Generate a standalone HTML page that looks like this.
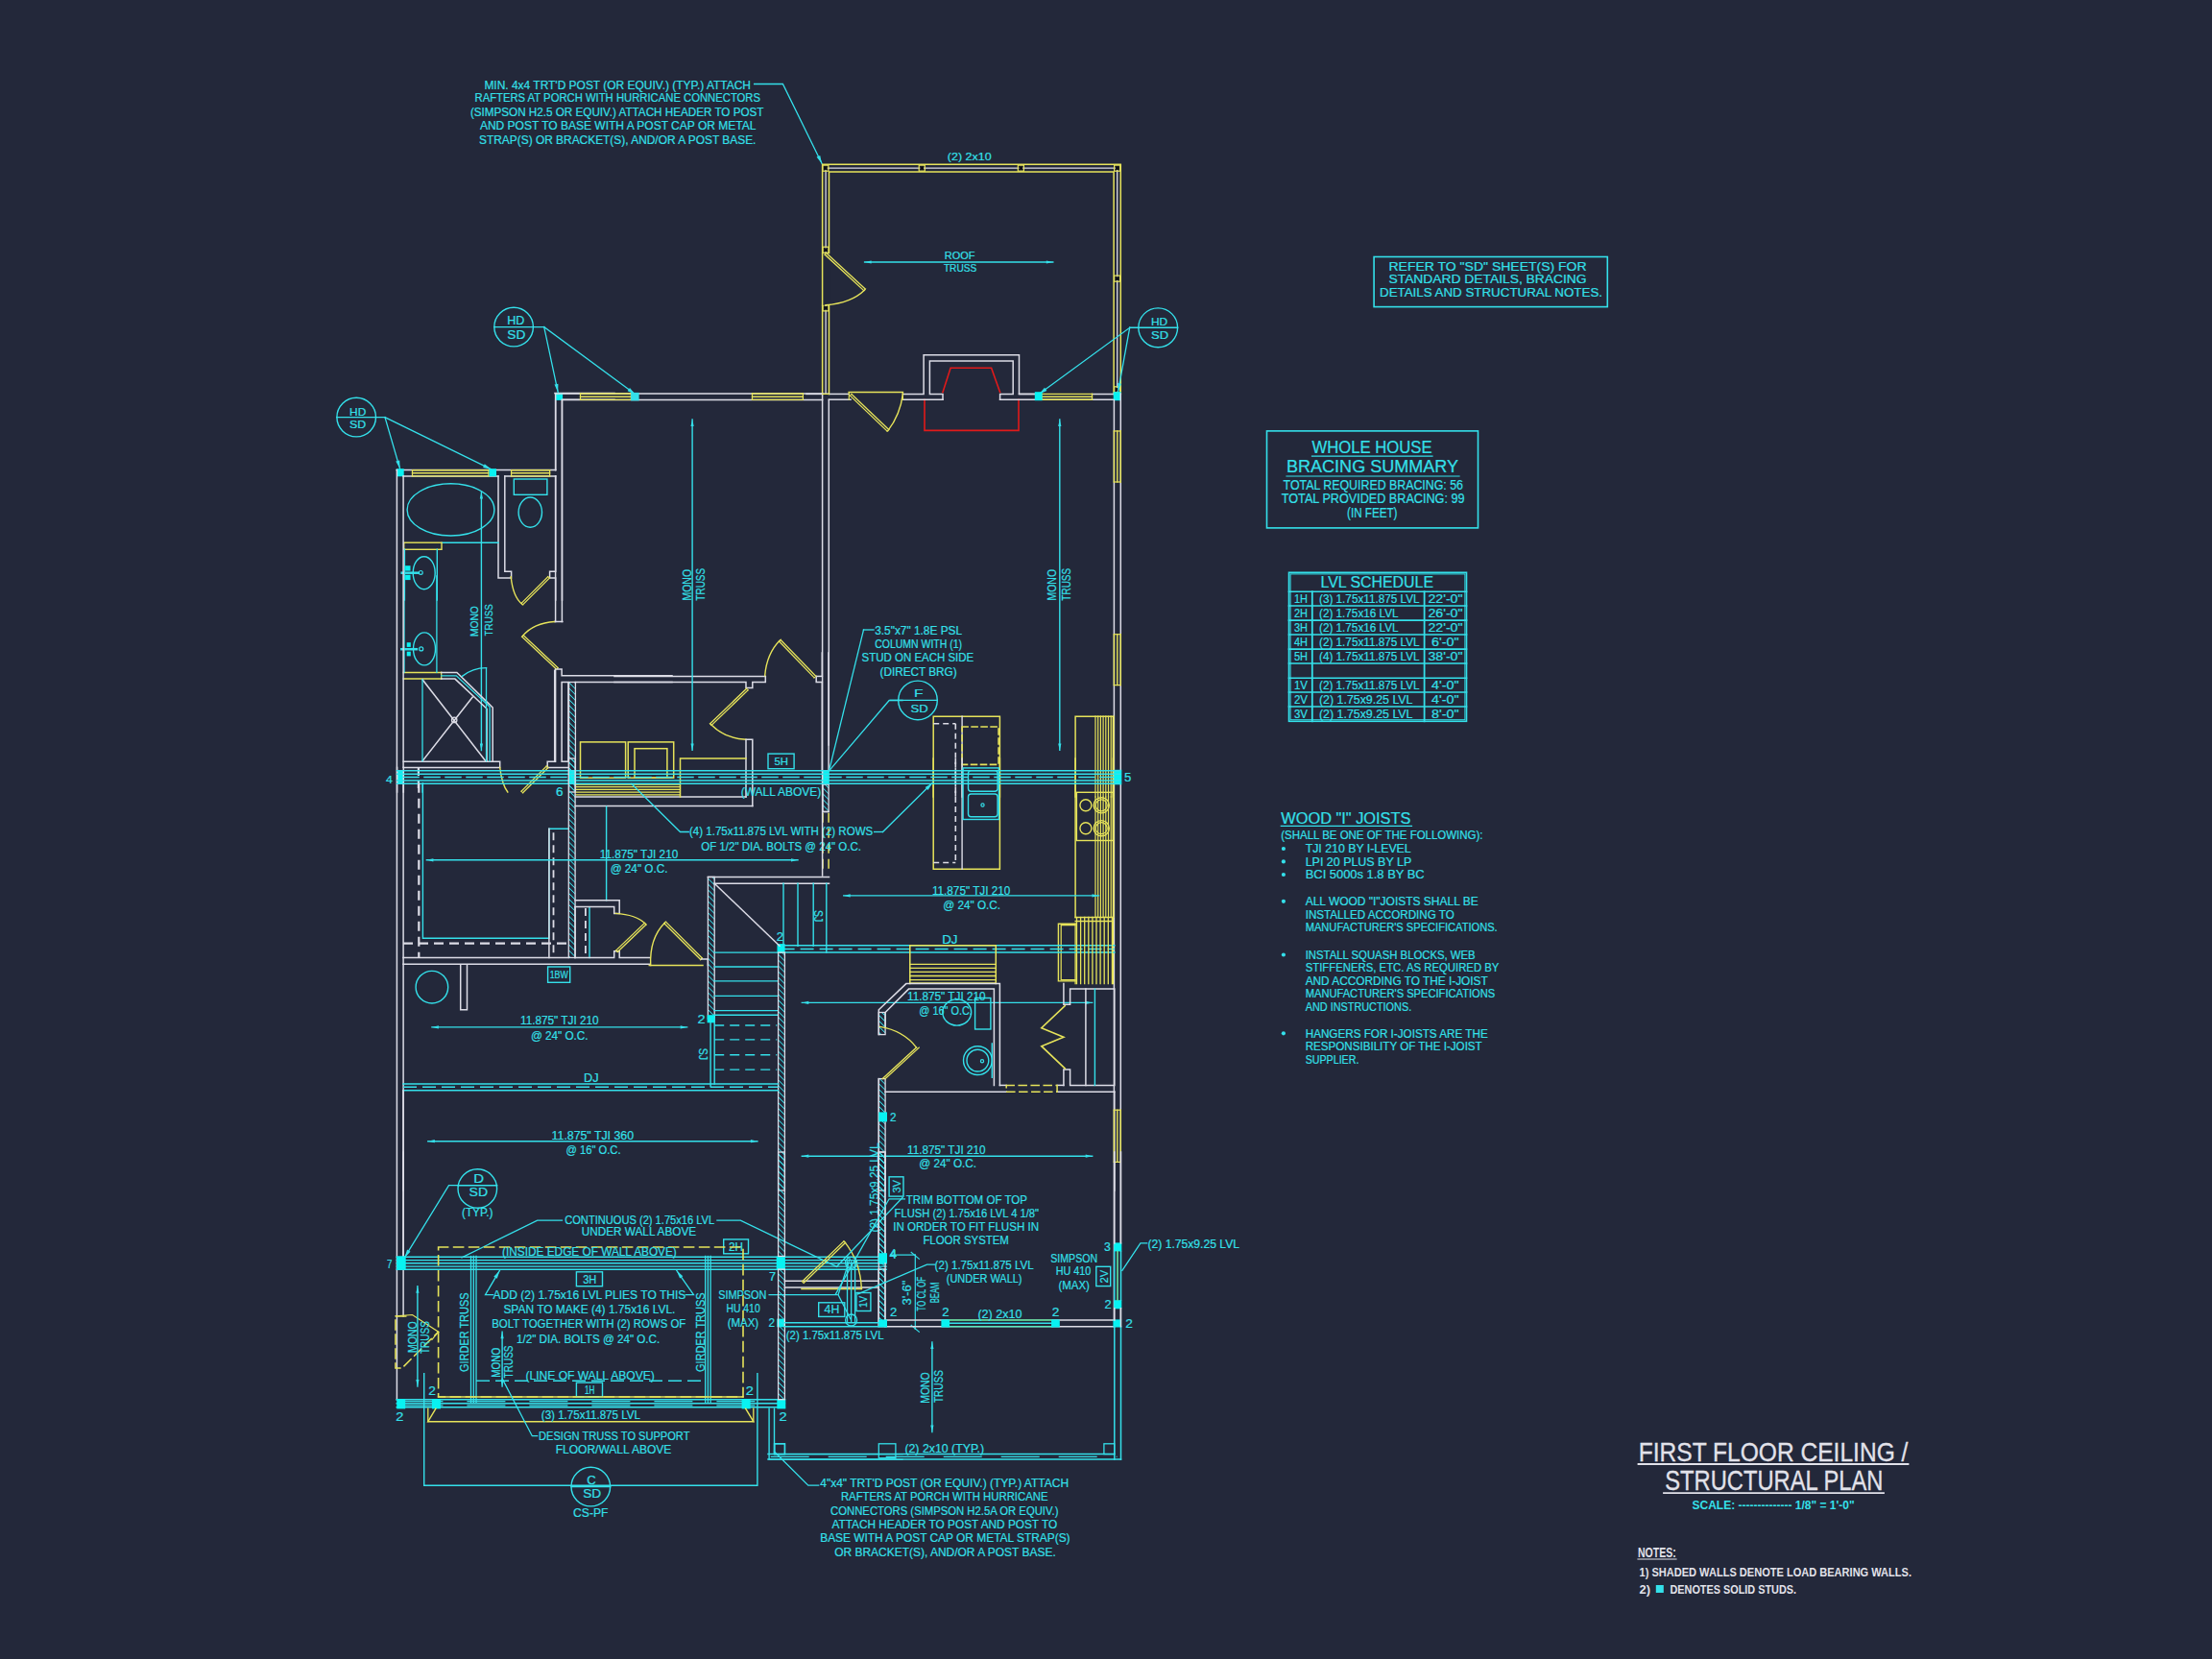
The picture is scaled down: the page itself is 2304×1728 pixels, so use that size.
<!DOCTYPE html>
<html><head><meta charset="utf-8"><style>
html,body{margin:0;padding:0;background:#23283a;width:2304px;height:1728px;overflow:hidden}
svg{display:block}
text{font-family:"Liberation Sans",sans-serif}
</style></head><body>
<svg width="2304" height="1728" viewBox="0 0 2304 1728" stroke-linecap="square">
<defs><pattern id="hatch" width="4.2" height="4.2" patternUnits="userSpaceOnUse" patternTransform="rotate(-45)"><line x1="0" y1="0" x2="0" y2="4.2" stroke="#34e0ea" stroke-width="1.7"/></pattern></defs>
<rect width="2304" height="1728" fill="#23283a"/>
<rect x="1431.1" y="267.5" width="243.2" height="52.1" fill="none" stroke="#34e0ea" stroke-width="1.6"/>
<text x="1446.5" y="281.6" font-size="12.86" fill="#34e0ea" stroke="#34e0ea" stroke-width="0.2" textLength="206.1" lengthAdjust="spacingAndGlyphs">REFER TO "SD"  SHEET(S) FOR</text>
<text x="1446.5" y="295.2" font-size="12.86" fill="#34e0ea" stroke="#34e0ea" stroke-width="0.2" textLength="206.1" lengthAdjust="spacingAndGlyphs">STANDARD DETAILS, BRACING</text>
<text x="1437.0" y="308.7" font-size="12.86" fill="#34e0ea" stroke="#34e0ea" stroke-width="0.2" textLength="232.0" lengthAdjust="spacingAndGlyphs">DETAILS AND STRUCTURAL NOTES.</text>
<rect x="1319.5" y="448.9" width="220.0" height="101.0" fill="none" stroke="#34e0ea" stroke-width="1.6"/>
<text x="1366.5" y="472.2" font-size="17.86" fill="#34e0ea" stroke="#34e0ea" stroke-width="0.2" textLength="125.0" lengthAdjust="spacingAndGlyphs">WHOLE HOUSE</text>
<line x1="1366.5" y1="475.2" x2="1492.0" y2="475.2" stroke="#34e0ea" stroke-width="1.2"/>
<text x="1340.0" y="492.2" font-size="17.86" fill="#34e0ea" stroke="#34e0ea" stroke-width="0.2" textLength="179.0" lengthAdjust="spacingAndGlyphs">BRACING SUMMARY</text>
<line x1="1340.0" y1="496.0" x2="1520.0" y2="496.0" stroke="#34e0ea" stroke-width="1.2"/>
<text x="1336.6" y="510.0" font-size="14.29" fill="#34e0ea" stroke="#34e0ea" stroke-width="0.2" textLength="187.4" lengthAdjust="spacingAndGlyphs">TOTAL REQUIRED BRACING: 56</text>
<text x="1334.8" y="524.4" font-size="14.29" fill="#34e0ea" stroke="#34e0ea" stroke-width="0.2" textLength="190.7" lengthAdjust="spacingAndGlyphs">TOTAL PROVIDED BRACING: 99</text>
<text x="1403.0" y="539.0" font-size="14.29" fill="#34e0ea" stroke="#34e0ea" stroke-width="0.2" textLength="52.5" lengthAdjust="spacingAndGlyphs">(IN FEET)</text>
<rect x="1342.5" y="596.3" width="185.0" height="155.0" fill="none" stroke="#34e0ea" stroke-width="1.6"/>
<rect x="1344.1" y="597.9" width="181.8" height="151.8" fill="none" stroke="#34e0ea" stroke-width="1.0"/>
<text x="1375.5" y="612.2" font-size="16.43" fill="#34e0ea" stroke="#34e0ea" stroke-width="0.2" textLength="117.5" lengthAdjust="spacingAndGlyphs">LVL SCHEDULE</text>
<line x1="1342.5" y1="616.3" x2="1527.5" y2="616.3" stroke="#34e0ea" stroke-width="1.6"/>
<line x1="1342.5" y1="631.0" x2="1527.5" y2="631.0" stroke="#34e0ea" stroke-width="1.6"/>
<line x1="1342.5" y1="646.1" x2="1527.5" y2="646.1" stroke="#34e0ea" stroke-width="1.6"/>
<line x1="1342.5" y1="661.0" x2="1527.5" y2="661.0" stroke="#34e0ea" stroke-width="1.6"/>
<line x1="1342.5" y1="676.1" x2="1527.5" y2="676.1" stroke="#34e0ea" stroke-width="1.6"/>
<line x1="1342.5" y1="691.0" x2="1527.5" y2="691.0" stroke="#34e0ea" stroke-width="1.6"/>
<line x1="1342.5" y1="706.2" x2="1527.5" y2="706.2" stroke="#34e0ea" stroke-width="1.6"/>
<line x1="1342.5" y1="721.0" x2="1527.5" y2="721.0" stroke="#34e0ea" stroke-width="1.6"/>
<line x1="1342.5" y1="736.0" x2="1527.5" y2="736.0" stroke="#34e0ea" stroke-width="1.6"/>
<line x1="1366.8" y1="616.3" x2="1366.8" y2="751.3" stroke="#34e0ea" stroke-width="1.8"/>
<line x1="1483.6" y1="616.3" x2="1483.6" y2="751.3" stroke="#34e0ea" stroke-width="1.8"/>
<text x="1348.0" y="628.4" font-size="13.57" fill="#34e0ea" stroke="#34e0ea" stroke-width="0.2" textLength="14.0" lengthAdjust="spacingAndGlyphs">1H</text>
<text x="1374.0" y="628.4" font-size="13.57" fill="#34e0ea" stroke="#34e0ea" stroke-width="0.2" textLength="104.5" lengthAdjust="spacingAndGlyphs">(3) 1.75x11.875 LVL</text>
<text x="1487.5" y="628.4" font-size="13.57" fill="#34e0ea" stroke="#34e0ea" stroke-width="0.2" textLength="36.0" lengthAdjust="spacingAndGlyphs">22'-0"</text>
<text x="1348.0" y="643.3" font-size="13.57" fill="#34e0ea" stroke="#34e0ea" stroke-width="0.2" textLength="14.0" lengthAdjust="spacingAndGlyphs">2H</text>
<text x="1374.0" y="643.3" font-size="13.57" fill="#34e0ea" stroke="#34e0ea" stroke-width="0.2" textLength="82.5" lengthAdjust="spacingAndGlyphs">(2) 1.75x16 LVL</text>
<text x="1487.5" y="643.3" font-size="13.57" fill="#34e0ea" stroke="#34e0ea" stroke-width="0.2" textLength="36.0" lengthAdjust="spacingAndGlyphs">26'-0"</text>
<text x="1348.0" y="658.3" font-size="13.57" fill="#34e0ea" stroke="#34e0ea" stroke-width="0.2" textLength="14.0" lengthAdjust="spacingAndGlyphs">3H</text>
<text x="1374.0" y="658.3" font-size="13.57" fill="#34e0ea" stroke="#34e0ea" stroke-width="0.2" textLength="82.5" lengthAdjust="spacingAndGlyphs">(2) 1.75x16 LVL</text>
<text x="1487.5" y="658.3" font-size="13.57" fill="#34e0ea" stroke="#34e0ea" stroke-width="0.2" textLength="36.0" lengthAdjust="spacingAndGlyphs">22'-0"</text>
<text x="1348.0" y="673.3" font-size="13.57" fill="#34e0ea" stroke="#34e0ea" stroke-width="0.2" textLength="14.0" lengthAdjust="spacingAndGlyphs">4H</text>
<text x="1374.0" y="673.3" font-size="13.57" fill="#34e0ea" stroke="#34e0ea" stroke-width="0.2" textLength="104.5" lengthAdjust="spacingAndGlyphs">(2) 1.75x11.875 LVL</text>
<text x="1491.0" y="673.3" font-size="13.57" fill="#34e0ea" stroke="#34e0ea" stroke-width="0.2" textLength="28.5" lengthAdjust="spacingAndGlyphs">6'-0"</text>
<text x="1348.0" y="688.3" font-size="13.57" fill="#34e0ea" stroke="#34e0ea" stroke-width="0.2" textLength="14.0" lengthAdjust="spacingAndGlyphs">5H</text>
<text x="1374.0" y="688.3" font-size="13.57" fill="#34e0ea" stroke="#34e0ea" stroke-width="0.2" textLength="104.5" lengthAdjust="spacingAndGlyphs">(4) 1.75x11.875 LVL</text>
<text x="1487.5" y="688.3" font-size="13.57" fill="#34e0ea" stroke="#34e0ea" stroke-width="0.2" textLength="36.0" lengthAdjust="spacingAndGlyphs">38'-0"</text>
<text x="1348.0" y="718.4" font-size="13.57" fill="#34e0ea" stroke="#34e0ea" stroke-width="0.2" textLength="14.0" lengthAdjust="spacingAndGlyphs">1V</text>
<text x="1374.0" y="718.4" font-size="13.57" fill="#34e0ea" stroke="#34e0ea" stroke-width="0.2" textLength="104.5" lengthAdjust="spacingAndGlyphs">(2) 1.75x11.875 LVL</text>
<text x="1491.0" y="718.4" font-size="13.57" fill="#34e0ea" stroke="#34e0ea" stroke-width="0.2" textLength="28.5" lengthAdjust="spacingAndGlyphs">4'-0"</text>
<text x="1348.0" y="733.2" font-size="13.57" fill="#34e0ea" stroke="#34e0ea" stroke-width="0.2" textLength="14.0" lengthAdjust="spacingAndGlyphs">2V</text>
<text x="1374.0" y="733.2" font-size="13.57" fill="#34e0ea" stroke="#34e0ea" stroke-width="0.2" textLength="97.5" lengthAdjust="spacingAndGlyphs">(2) 1.75x9.25 LVL</text>
<text x="1491.0" y="733.2" font-size="13.57" fill="#34e0ea" stroke="#34e0ea" stroke-width="0.2" textLength="28.5" lengthAdjust="spacingAndGlyphs">4'-0"</text>
<text x="1348.0" y="748.4" font-size="13.57" fill="#34e0ea" stroke="#34e0ea" stroke-width="0.2" textLength="14.0" lengthAdjust="spacingAndGlyphs">3V</text>
<text x="1374.0" y="748.4" font-size="13.57" fill="#34e0ea" stroke="#34e0ea" stroke-width="0.2" textLength="97.5" lengthAdjust="spacingAndGlyphs">(2) 1.75x9.25 LVL</text>
<text x="1491.0" y="748.4" font-size="13.57" fill="#34e0ea" stroke="#34e0ea" stroke-width="0.2" textLength="28.5" lengthAdjust="spacingAndGlyphs">8'-0"</text>
<text x="1334.3" y="857.8" font-size="15.71" fill="#34e0ea" stroke="#34e0ea" stroke-width="0.2" textLength="135.1" lengthAdjust="spacingAndGlyphs">WOOD "I" JOISTS</text>
<line x1="1334.3" y1="860.3" x2="1470.5" y2="860.3" stroke="#34e0ea" stroke-width="1.2"/>
<text x="1334.3" y="873.9" font-size="12.14" fill="#34e0ea" stroke="#34e0ea" stroke-width="0.2" textLength="210.2" lengthAdjust="spacingAndGlyphs">(SHALL BE ONE OF THE FOLLOWING):</text>
<text x="1359.7" y="888.2" font-size="12.14" fill="#34e0ea" stroke="#34e0ea" stroke-width="0.2" textLength="110.0" lengthAdjust="spacingAndGlyphs">TJI 210 BY I-LEVEL</text>
<circle cx="1336.9" cy="884.0" r="2.1" fill="#34e0ea"/>
<text x="1359.7" y="901.6" font-size="12.14" fill="#34e0ea" stroke="#34e0ea" stroke-width="0.2" textLength="110.5" lengthAdjust="spacingAndGlyphs">LPI 20 PLUS BY LP</text>
<circle cx="1336.9" cy="897.4" r="2.1" fill="#34e0ea"/>
<text x="1359.7" y="915.2" font-size="12.14" fill="#34e0ea" stroke="#34e0ea" stroke-width="0.2" textLength="124.0" lengthAdjust="spacingAndGlyphs">BCI 5000s 1.8 BY BC</text>
<circle cx="1336.9" cy="911.0" r="2.1" fill="#34e0ea"/>
<text x="1359.7" y="943.0" font-size="12.14" fill="#34e0ea" stroke="#34e0ea" stroke-width="0.2" textLength="180.0" lengthAdjust="spacingAndGlyphs">ALL WOOD "I"JOISTS SHALL BE</text>
<circle cx="1336.9" cy="938.8" r="2.1" fill="#34e0ea"/>
<text x="1359.7" y="956.5" font-size="12.14" fill="#34e0ea" stroke="#34e0ea" stroke-width="0.2" textLength="155.0" lengthAdjust="spacingAndGlyphs">INSTALLED ACCORDING TO</text>
<text x="1359.7" y="970.0" font-size="12.14" fill="#34e0ea" stroke="#34e0ea" stroke-width="0.2" textLength="200.0" lengthAdjust="spacingAndGlyphs">MANUFACTURER'S SPECIFICATIONS.</text>
<text x="1359.7" y="998.8" font-size="12.14" fill="#34e0ea" stroke="#34e0ea" stroke-width="0.2" textLength="177.0" lengthAdjust="spacingAndGlyphs">INSTALL SQUASH BLOCKS, WEB</text>
<circle cx="1336.9" cy="994.5" r="2.1" fill="#34e0ea"/>
<text x="1359.7" y="1012.2" font-size="12.14" fill="#34e0ea" stroke="#34e0ea" stroke-width="0.2" textLength="201.7" lengthAdjust="spacingAndGlyphs">STIFFENERS, ETC. AS REQUIRED BY</text>
<text x="1359.7" y="1025.8" font-size="12.14" fill="#34e0ea" stroke="#34e0ea" stroke-width="0.2" textLength="190.0" lengthAdjust="spacingAndGlyphs">AND ACCORDING TO THE I-JOIST</text>
<text x="1359.7" y="1039.2" font-size="12.14" fill="#34e0ea" stroke="#34e0ea" stroke-width="0.2" textLength="197.5" lengthAdjust="spacingAndGlyphs">MANUFACTURER'S SPECIFICATIONS</text>
<text x="1359.7" y="1052.8" font-size="12.14" fill="#34e0ea" stroke="#34e0ea" stroke-width="0.2" textLength="110.5" lengthAdjust="spacingAndGlyphs">AND INSTRUCTIONS.</text>
<text x="1359.7" y="1080.5" font-size="12.14" fill="#34e0ea" stroke="#34e0ea" stroke-width="0.2" textLength="190.0" lengthAdjust="spacingAndGlyphs">HANGERS FOR I-JOISTS ARE THE</text>
<circle cx="1336.9" cy="1076.3" r="2.1" fill="#34e0ea"/>
<text x="1359.7" y="1094.2" font-size="12.14" fill="#34e0ea" stroke="#34e0ea" stroke-width="0.2" textLength="184.0" lengthAdjust="spacingAndGlyphs">RESPONSIBILITY OF THE I-JOIST</text>
<text x="1359.7" y="1107.7" font-size="12.14" fill="#34e0ea" stroke="#34e0ea" stroke-width="0.2" textLength="55.7" lengthAdjust="spacingAndGlyphs">SUPPLIER.</text>
<text x="1706.8" y="1521.8" font-size="27.86" fill="#e2e2ea" stroke="#e2e2ea" stroke-width="0.3" textLength="280.6" lengthAdjust="spacingAndGlyphs">FIRST FLOOR CEILING /</text>
<line x1="1706.5" y1="1525.0" x2="1987.5" y2="1525.0" stroke="#e2e2ea" stroke-width="1.8"/>
<text x="1734.2" y="1552.2" font-size="30.00" fill="#e2e2ea" stroke="#e2e2ea" stroke-width="0.3" textLength="227.2" lengthAdjust="spacingAndGlyphs">STRUCTURAL PLAN</text>
<line x1="1733.0" y1="1555.1" x2="1962.0" y2="1555.1" stroke="#e2e2ea" stroke-width="1.8"/>
<text x="1762.5" y="1571.5" font-size="12.86" fill="#34e0ea" font-weight="bold" textLength="169.2" lengthAdjust="spacingAndGlyphs">SCALE: -------------- 1/8" = 1'-0"</text>
<text x="1706.0" y="1622.3" font-size="14.29" fill="#e2e2ea" font-weight="bold" textLength="39.8" lengthAdjust="spacingAndGlyphs">NOTES:</text>
<line x1="1706.0" y1="1624.0" x2="1746.0" y2="1624.0" stroke="#e2e2ea" stroke-width="1.2"/>
<text x="1707.5" y="1642.0" font-size="13.57" fill="#e2e2ea" font-weight="bold" textLength="283.5" lengthAdjust="spacingAndGlyphs">1) SHADED WALLS DENOTE LOAD BEARING WALLS.</text>
<text x="1707.5" y="1660.0" font-size="13.57" fill="#e2e2ea" font-weight="bold" textLength="11.5" lengthAdjust="spacingAndGlyphs">2)</text>
<rect x="1724.8" y="1651.0" width="8.0" height="8.0" fill="#34e0ea"/>
<text x="1739.5" y="1660.0" font-size="13.57" fill="#e2e2ea" font-weight="bold" textLength="131.5" lengthAdjust="spacingAndGlyphs">DENOTES SOLID STUDS.</text>
<text x="504.4" y="92.6" font-size="12.92" fill="#34e0ea" stroke="#34e0ea" stroke-width="0.2" textLength="277.6" lengthAdjust="spacingAndGlyphs">MIN. 4x4 TRT'D POST (OR EQUIV.) (TYP.) ATTACH</text>
<text x="494.5" y="106.2" font-size="12.92" fill="#34e0ea" stroke="#34e0ea" stroke-width="0.2" textLength="297.5" lengthAdjust="spacingAndGlyphs">RAFTERS AT PORCH WITH HURRICANE CONNECTORS</text>
<text x="489.9" y="121.0" font-size="12.92" fill="#34e0ea" stroke="#34e0ea" stroke-width="0.2" textLength="305.6" lengthAdjust="spacingAndGlyphs">(SIMPSON H2.5 OR EQUIV.) ATTACH HEADER TO POST</text>
<text x="499.9" y="134.7" font-size="12.92" fill="#34e0ea" stroke="#34e0ea" stroke-width="0.2" textLength="287.5" lengthAdjust="spacingAndGlyphs">AND POST TO BASE WITH A POST CAP OR METAL</text>
<text x="499.0" y="149.6" font-size="12.92" fill="#34e0ea" stroke="#34e0ea" stroke-width="0.2" textLength="288.4" lengthAdjust="spacingAndGlyphs">STRAP(S) OR BRACKET(S), AND/OR A POST BASE.</text>
<polyline points="785.6,87.5 815.4,87.5 856.1,170.4" fill="none" stroke="#34e0ea" stroke-width="1.3"/>
<polygon points="856.1,170.4 854.2,161.9 850.6,163.6" fill="#34e0ea"/>
<polyline points="856.6,410.4 856.6,171.3 1167.3,171.3 1167.3,410.4" fill="none" stroke="#e6e35a" stroke-width="1.5"/>
<polyline points="860.1,410.4 860.1,175.1 1163.7,175.1 1163.7,410.4" fill="none" stroke="#dcdce6" stroke-width="1.3"/>
<polyline points="863.5,410.4 863.5,178.9 1160.1,178.9 1160.1,410.4" fill="none" stroke="#e6e35a" stroke-width="1.5"/>
<rect x="856.8" y="172.1" width="6.1" height="6.1" fill="none" stroke="#e6e35a" stroke-width="1.2"/>
<rect x="858.1" y="173.3" width="3.6" height="3.6" fill="#111"/>
<rect x="957.2" y="172.1" width="6.1" height="6.1" fill="none" stroke="#e6e35a" stroke-width="1.2"/>
<rect x="958.4" y="173.3" width="3.6" height="3.6" fill="#111"/>
<rect x="1060.3" y="172.1" width="6.1" height="6.1" fill="none" stroke="#e6e35a" stroke-width="1.2"/>
<rect x="1061.5" y="173.3" width="3.6" height="3.6" fill="#111"/>
<rect x="1160.6" y="172.1" width="6.1" height="6.1" fill="none" stroke="#e6e35a" stroke-width="1.2"/>
<rect x="1161.9" y="173.3" width="3.6" height="3.6" fill="#111"/>
<rect x="857.0" y="257.2" width="6.1" height="6.1" fill="none" stroke="#e6e35a" stroke-width="1.2"/>
<rect x="858.3" y="258.5" width="3.6" height="3.6" fill="#111"/>
<rect x="857.0" y="317.8" width="6.1" height="6.1" fill="none" stroke="#e6e35a" stroke-width="1.2"/>
<rect x="858.3" y="319.1" width="3.6" height="3.6" fill="#111"/>
<rect x="1160.6" y="287.1" width="6.1" height="6.1" fill="none" stroke="#e6e35a" stroke-width="1.2"/>
<rect x="1161.9" y="288.3" width="3.6" height="3.6" fill="#111"/>
<rect x="1160.6" y="402.8" width="6.1" height="6.1" fill="none" stroke="#e6e35a" stroke-width="1.2"/>
<rect x="1161.9" y="404.1" width="3.6" height="3.6" fill="#111"/>

<rect x="854.5" y="264.3" width="10.8" height="53.5" fill="#23283a"/>
<polyline points="856.6,264.3 856.6,317.8" fill="none" stroke="#e6e35a" stroke-width="1.5"/>
<line x1="859.1" y1="265.1" x2="899.8" y2="302.7" stroke="#e6e35a" stroke-width="1.3"/>
<line x1="860.6" y1="263.5" x2="901.3" y2="301.1" stroke="#e6e35a" stroke-width="1.3"/>
<line x1="859.1" y1="265.1" x2="860.6" y2="263.5" stroke="#e6e35a" stroke-width="1.0"/>
<line x1="899.8" y1="302.7" x2="901.3" y2="301.1" stroke="#e6e35a" stroke-width="1.0"/>
<path d="M900.6,301.9 Q887.0,315.5 859.9,317.8" fill="none" stroke="#e6e35a" stroke-width="1.4"/>
<text x="986.8" y="167.1" font-size="11.62" fill="#34e0ea" stroke="#34e0ea" stroke-width="0.2" textLength="45.8" lengthAdjust="spacingAndGlyphs">(2) 2x10</text>
<line x1="900.6" y1="273.0" x2="1096.8" y2="273.0" stroke="#34e0ea" stroke-width="1.4"/>
<polygon points="900.6,273.0 907.6,274.6 907.6,271.4" fill="#34e0ea"/>
<polygon points="1096.8,273.0 1089.8,271.4 1089.8,274.6" fill="#34e0ea"/>
<text x="983.8" y="269.8" font-size="11.62" fill="#34e0ea" stroke="#34e0ea" stroke-width="0.2" textLength="31.6" lengthAdjust="spacingAndGlyphs">ROOF</text>
<text x="982.9" y="283.4" font-size="11.62" fill="#34e0ea" stroke="#34e0ea" stroke-width="0.2" textLength="34.4" lengthAdjust="spacingAndGlyphs">TRUSS</text>
<circle cx="1206.2" cy="341.3" r="20.4" fill="none" stroke="#34e0ea" stroke-width="1.4"/>
<line x1="1176.7" y1="341.3" x2="1226.6" y2="341.3" stroke="#34e0ea" stroke-width="1.4"/>
<text x="1199.0" y="338.5" font-size="11.62" fill="#34e0ea" stroke="#34e0ea" stroke-width="0.2" textLength="17.2" lengthAdjust="spacingAndGlyphs">HD</text>
<text x="1199.0" y="353.0" font-size="11.62" fill="#34e0ea" stroke="#34e0ea" stroke-width="0.2" textLength="18.1" lengthAdjust="spacingAndGlyphs">SD</text>
<polyline points="1176.7,341.3 1082.3,410.4" fill="none" stroke="#34e0ea" stroke-width="1.3"/>
<polygon points="1082.3,410.4 1090.4,407.0 1088.0,403.8" fill="#34e0ea"/>
<polyline points="1176.7,341.3 1164.6,407.7" fill="none" stroke="#34e0ea" stroke-width="1.3"/>
<polygon points="1164.6,407.7 1168.1,399.7 1164.2,399.0" fill="#34e0ea"/>
<polyline points="940.4,410.4 962.1,410.4 962.1,369.7 1061.5,369.7 1061.5,410.4 1077.8,410.4" fill="none" stroke="#dcdce6" stroke-width="1.5"/>
<polyline points="982.0,416.2 982.0,410.4 968.4,410.4 968.4,376.0 1055.2,376.0 1055.2,410.4 1041.6,410.4 1041.6,416.2" fill="none" stroke="#dcdce6" stroke-width="1.5"/>
<polyline points="982.0,408.6 990.1,383.3 1032.6,383.3 1041.6,408.6" fill="none" stroke="#e01a1a" stroke-width="1.6"/>
<polyline points="963.0,416.2 963.0,448.4 1061.0,448.4 1061.0,416.2" fill="none" stroke="#e01a1a" stroke-width="1.6"/>
<circle cx="371.2" cy="434.6" r="20.3" fill="none" stroke="#34e0ea" stroke-width="1.4"/>
<line x1="350.8" y1="434.6" x2="401.0" y2="434.6" stroke="#34e0ea" stroke-width="1.4"/>
<text x="364.1" y="432.5" font-size="11.62" fill="#34e0ea" stroke="#34e0ea" stroke-width="0.2" textLength="17.2" lengthAdjust="spacingAndGlyphs">HD</text>
<text x="364.1" y="446.4" font-size="11.62" fill="#34e0ea" stroke="#34e0ea" stroke-width="0.2" textLength="17.2" lengthAdjust="spacingAndGlyphs">SD</text>
<polyline points="401.0,434.6 416.6,488.2" fill="none" stroke="#34e0ea" stroke-width="1.3"/>
<polygon points="416.6,488.2 416.2,479.4 412.3,480.6" fill="#34e0ea"/>
<polyline points="401.0,434.6 511.6,488.8" fill="none" stroke="#34e0ea" stroke-width="1.3"/>
<polygon points="511.6,488.8 504.8,483.3 503.1,486.9" fill="#34e0ea"/>
<line x1="413.2" y1="489.5" x2="578.7" y2="489.5" stroke="#dcdce6" stroke-width="1.5"/>
<line x1="420.0" y1="495.9" x2="519.0" y2="495.9" stroke="#dcdce6" stroke-width="1.5"/>
<line x1="525.8" y1="495.9" x2="578.7" y2="495.9" stroke="#dcdce6" stroke-width="1.5"/>
<line x1="578.7" y1="489.5" x2="578.7" y2="416.3" stroke="#dcdce6" stroke-width="1.5"/>
<line x1="585.5" y1="625.0" x2="585.5" y2="416.3" stroke="#dcdce6" stroke-width="1.5"/>
<line x1="578.0" y1="409.5" x2="640.0" y2="409.5" stroke="#dcdce6" stroke-width="1.5"/>
<line x1="585.5" y1="416.3" x2="640.0" y2="416.3" stroke="#dcdce6" stroke-width="1.5"/>
<line x1="429.5" y1="489.8" x2="508.9" y2="489.8" stroke="#e6e35a" stroke-width="1.4"/>
<line x1="429.5" y1="492.8" x2="508.9" y2="492.8" stroke="#e6e35a" stroke-width="1.4"/>
<line x1="429.5" y1="495.9" x2="508.9" y2="495.9" stroke="#e6e35a" stroke-width="1.4"/>
<line x1="429.5" y1="489.8" x2="429.5" y2="495.9" stroke="#e6e35a" stroke-width="1.2"/>
<line x1="508.9" y1="489.8" x2="508.9" y2="495.9" stroke="#e6e35a" stroke-width="1.2"/>
<line x1="532.6" y1="489.8" x2="572.6" y2="489.8" stroke="#e6e35a" stroke-width="1.4"/>
<line x1="532.6" y1="492.8" x2="572.6" y2="492.8" stroke="#e6e35a" stroke-width="1.4"/>
<line x1="532.6" y1="495.9" x2="572.6" y2="495.9" stroke="#e6e35a" stroke-width="1.4"/>
<line x1="532.6" y1="489.8" x2="532.6" y2="495.9" stroke="#e6e35a" stroke-width="1.2"/>
<line x1="572.6" y1="489.8" x2="572.6" y2="495.9" stroke="#e6e35a" stroke-width="1.2"/>
<rect x="413.2" y="488.2" width="7.5" height="8.1" fill="#08f2f2"/>
<rect x="509.5" y="488.2" width="7.5" height="8.1" fill="#08f2f2"/>
<rect x="578.0" y="409.2" width="8.1" height="7.7" fill="#08f2f2"/>
<polyline points="519.0,495.9 519.0,602.1 532.6,602.1 532.6,595.3 525.8,595.3 525.8,495.9" fill="none" stroke="#dcdce6" stroke-width="1.5"/>
<polyline points="578.7,495.9 578.7,595.3 572.6,595.3 572.6,602.1 578.7,602.1 578.7,625.0" fill="none" stroke="#dcdce6" stroke-width="1.5"/>
<ellipse cx="469.5" cy="530.9" rx="45.4" ry="27.1" fill="none" stroke="#34e0ea" stroke-width="1.4"/>
<rect x="535.3" y="499.0" width="34.6" height="16.3" fill="none" stroke="#34e0ea" stroke-width="1.4"/>
<ellipse cx="552.3" cy="533.6" rx="12.2" ry="15.6" fill="none" stroke="#34e0ea" stroke-width="1.4"/>
<line x1="460.0" y1="565.2" x2="519.0" y2="565.2" stroke="#34e0ea" stroke-width="1.4"/>
<rect x="420.7" y="565.2" width="39.3" height="7.1" fill="none" stroke="#e6e35a" stroke-width="1.4"/>
<line x1="421.4" y1="572.2" x2="421.4" y2="625.0" stroke="#34e0ea" stroke-width="1.4"/>
<line x1="455.3" y1="572.2" x2="455.3" y2="625.0" stroke="#34e0ea" stroke-width="1.4"/>
<ellipse cx="441.7" cy="596.7" rx="11.5" ry="17.0" fill="none" stroke="#34e0ea" stroke-width="1.4"/>
<circle cx="438.3" cy="596.4" r="1.9" fill="none" stroke="#34e0ea" stroke-width="1.2"/>
<rect x="422.1" y="589.2" width="5.4" height="5.4" fill="#08f2f2"/>
<rect x="422.1" y="598.7" width="5.4" height="5.4" fill="#08f2f2"/>
<line x1="418.7" y1="596.7" x2="434.9" y2="596.7" stroke="#34e0ea" stroke-width="2.5"/>
<line x1="501.4" y1="512.6" x2="501.4" y2="781.6" stroke="#34e0ea" stroke-width="1.4"/>
<polygon points="501.4,512.6 499.8,519.6 503.0,519.6" fill="#34e0ea"/>
<polygon points="501.4,781.6 503.0,774.6 499.8,774.6" fill="#34e0ea"/>
<line x1="570.8" y1="600.6" x2="543.0" y2="628.4" stroke="#e6e35a" stroke-width="1.3"/>
<line x1="572.3" y1="602.1" x2="544.5" y2="629.9" stroke="#e6e35a" stroke-width="1.3"/>
<line x1="570.8" y1="600.6" x2="572.3" y2="602.1" stroke="#e6e35a" stroke-width="1.0"/>
<line x1="543.0" y1="628.4" x2="544.5" y2="629.9" stroke="#e6e35a" stroke-width="1.0"/>
<path d="M532.2,600.7 Q534.3,621.7 543.8,629.2" fill="none" stroke="#e6e35a" stroke-width="1.4"/>
<line x1="577.7" y1="647.5" x2="585.8" y2="647.5" stroke="#dcdce6" stroke-width="1.5"/>
<path d="M577.7,647.5 Q556.0,648.8 544.4,662.4" fill="none" stroke="#e6e35a" stroke-width="1.4"/>
<line x1="543.7" y1="663.2" x2="579.6" y2="697.1" stroke="#e6e35a" stroke-width="1.3"/>
<line x1="545.2" y1="661.6" x2="581.1" y2="695.5" stroke="#e6e35a" stroke-width="1.3"/>
<line x1="543.7" y1="663.2" x2="545.2" y2="661.6" stroke="#e6e35a" stroke-width="1.0"/>
<line x1="579.6" y1="697.1" x2="581.1" y2="695.5" stroke="#e6e35a" stroke-width="1.0"/>
<polyline points="580.4,697.0 585.1,697.0 585.1,703.8 700.0,703.8" fill="none" stroke="#dcdce6" stroke-width="1.5"/>
<line x1="577.7" y1="698.3" x2="577.7" y2="793.3" stroke="#dcdce6" stroke-width="1.5"/>
<rect x="585.1" y="710.5" width="6.8" height="82.7" fill="none" stroke="#dcdce6" stroke-width="1.5"/>
<rect x="592.6" y="710.5" width="6.8" height="114.5" fill="url(#hatch)" stroke="#dcdce6" stroke-width="1.3"/>
<line x1="599.4" y1="710.5" x2="700.0" y2="710.5" stroke="#dcdce6" stroke-width="1.5"/>
<polyline points="420.3,793.3 520.7,793.3 520.7,799.4 420.3,799.4" fill="none" stroke="#dcdce6" stroke-width="1.5"/>
<polyline points="577.7,793.3 570.2,793.3 570.2,799.4 591.9,799.4" fill="none" stroke="#dcdce6" stroke-width="1.5"/>
<line x1="420.3" y1="700.4" x2="459.7" y2="700.4" stroke="#e6e35a" stroke-width="1.5"/>
<line x1="420.3" y1="707.1" x2="459.7" y2="707.1" stroke="#e6e35a" stroke-width="1.5"/>
<line x1="459.7" y1="700.4" x2="459.7" y2="707.1" stroke="#e6e35a" stroke-width="1.2"/>
<polyline points="459.7,700.4 475.9,700.4 513.2,737.0 513.2,792.6" fill="none" stroke="#dcdce6" stroke-width="1.5"/>
<polyline points="459.7,707.1 473.9,707.1 507.1,738.3 507.1,792.6" fill="none" stroke="#dcdce6" stroke-width="1.5"/>
<polyline points="459.7,703.8 475.3,703.8 510.1,736.3 510.1,792.6" fill="none" stroke="#34e0ea" stroke-width="1.3"/>
<line x1="440.0" y1="707.8" x2="505.8" y2="792.6" stroke="#dcdce6" stroke-width="1.5"/>
<line x1="440.0" y1="792.6" x2="492.2" y2="726.1" stroke="#dcdce6" stroke-width="1.5"/>
<circle cx="473.2" cy="749.9" r="2.7" fill="none" stroke="#dcdce6" stroke-width="1.3"/>
<line x1="440.0" y1="707.8" x2="440.0" y2="792.6" stroke="#34e0ea" stroke-width="1.3"/>
<path d="M481.4,704.4 Q492.2,695.6 506.5,695.6" fill="none" stroke="#34e0ea" stroke-width="1.4"/>
<line x1="506.5" y1="695.6" x2="506.5" y2="792.6" stroke="#34e0ea" stroke-width="1.3"/>
<line x1="421.0" y1="600.0" x2="421.0" y2="700.4" stroke="#34e0ea" stroke-width="1.3"/>
<line x1="454.9" y1="600.0" x2="454.9" y2="700.4" stroke="#34e0ea" stroke-width="1.3"/>
<ellipse cx="442.0" cy="675.9" rx="11.5" ry="17.0" fill="none" stroke="#34e0ea" stroke-width="1.4"/>
<circle cx="438.7" cy="675.9" r="2.0" fill="none" stroke="#34e0ea" stroke-width="1.2"/>
<rect x="423.7" y="669.2" width="4.1" height="4.7" fill="#08f2f2"/>
<rect x="423.7" y="678.7" width="4.1" height="4.7" fill="#08f2f2"/>
<line x1="418.3" y1="676.2" x2="433.9" y2="676.2" stroke="#34e0ea" stroke-width="2.5"/>
<g transform="translate(494.3,647.2) rotate(-90)"><text x="-15.9" y="4.1" font-size="11.62" fill="#34e0ea" stroke="#34e0ea" stroke-width="0.2" textLength="31.9" lengthAdjust="spacingAndGlyphs">MONO</text></g>
<g transform="translate(508.5,645.8) rotate(-90)"><text x="-16.6" y="4.1" font-size="11.62" fill="#34e0ea" stroke="#34e0ea" stroke-width="0.2" textLength="33.2" lengthAdjust="spacingAndGlyphs">TRUSS</text></g>
<rect x="413.6" y="802.1" width="7.1" height="14.9" fill="#08f2f2"/>
<rect x="591.9" y="802.1" width="7.5" height="14.9" fill="#08f2f2"/>
<text x="402.0" y="815.6" font-size="11.62" fill="#34e0ea" stroke="#34e0ea" stroke-width="0.2" textLength="6.8" lengthAdjust="spacingAndGlyphs">4</text>
<line x1="435.9" y1="800.0" x2="435.9" y2="825.0" stroke="#dcdce6" stroke-width="2.2" stroke-dasharray="8 5" stroke-linecap="butt"/>
<line x1="420.3" y1="799.4" x2="420.3" y2="825.0" stroke="#dcdce6" stroke-width="1.5"/>
<line x1="413.6" y1="799.4" x2="413.6" y2="825.0" stroke="#dcdce6" stroke-width="1.5"/>
<line x1="440.0" y1="817.0" x2="440.0" y2="825.0" stroke="#34e0ea" stroke-width="1.3"/>
<path d="M520.7,799.4 Q522.7,817.0 528.8,825.0" fill="none" stroke="#e6e35a" stroke-width="1.4"/>
<line x1="569.4" y1="797.9" x2="543.0" y2="824.2" stroke="#e6e35a" stroke-width="1.3"/>
<line x1="571.0" y1="799.5" x2="544.5" y2="825.8" stroke="#e6e35a" stroke-width="1.3"/>
<line x1="569.4" y1="797.9" x2="571.0" y2="799.5" stroke="#e6e35a" stroke-width="1.0"/>
<line x1="543.0" y1="824.2" x2="544.5" y2="825.8" stroke="#e6e35a" stroke-width="1.0"/>
<polyline points="640.0,704.4 797.3,704.4" fill="none" stroke="#dcdce6" stroke-width="1.5"/>
<polyline points="640.0,710.5 777.0,710.5 777.0,716.6 783.8,716.6 783.8,710.5 797.3,710.5 797.3,704.4" fill="none" stroke="#dcdce6" stroke-width="1.5"/>
<polyline points="850.2,704.4 850.2,710.5 856.3,710.5" fill="none" stroke="#dcdce6" stroke-width="1.5"/>
<line x1="850.2" y1="704.4" x2="856.3" y2="704.4" stroke="#dcdce6" stroke-width="1.5"/>
<line x1="856.3" y1="680.0" x2="856.3" y2="704.4" stroke="#dcdce6" stroke-width="1.5"/>
<line x1="856.3" y1="710.5" x2="856.3" y2="802.7" stroke="#dcdce6" stroke-width="1.5"/>
<line x1="863.1" y1="680.0" x2="863.1" y2="802.7" stroke="#dcdce6" stroke-width="1.5"/>
<line x1="777.6" y1="717.2" x2="739.6" y2="753.8" stroke="#e6e35a" stroke-width="1.3"/>
<line x1="779.1" y1="718.8" x2="741.1" y2="755.4" stroke="#e6e35a" stroke-width="1.3"/>
<line x1="777.6" y1="717.2" x2="779.1" y2="718.8" stroke="#e6e35a" stroke-width="1.0"/>
<line x1="739.6" y1="753.8" x2="741.1" y2="755.4" stroke="#e6e35a" stroke-width="1.0"/>
<path d="M740.4,754.6 Q755.3,769.5 777.0,770.2" fill="none" stroke="#e6e35a" stroke-width="1.4"/>
<polyline points="777.0,829.9 777.0,770.2 783.8,770.2 783.8,839.4" fill="none" stroke="#dcdce6" stroke-width="1.5"/>
<line x1="599.3" y1="829.9" x2="777.0" y2="829.9" stroke="#dcdce6" stroke-width="1.5"/>
<line x1="599.3" y1="839.4" x2="783.8" y2="839.4" stroke="#dcdce6" stroke-width="1.5"/>
<polyline points="708.5,829.9 708.5,789.9 777.0,789.9" fill="none" stroke="#e6e35a" stroke-width="1.5"/>
<line x1="599.3" y1="817.0" x2="707.8" y2="817.0" stroke="#e6e35a" stroke-width="1.3"/>
<line x1="599.3" y1="819.7" x2="707.8" y2="819.7" stroke="#e6e35a" stroke-width="1.3"/>
<line x1="599.3" y1="822.4" x2="707.8" y2="822.4" stroke="#e6e35a" stroke-width="1.3"/>
<line x1="599.3" y1="825.1" x2="707.8" y2="825.1" stroke="#e6e35a" stroke-width="1.3"/>
<line x1="599.3" y1="827.8" x2="707.8" y2="827.8" stroke="#e6e35a" stroke-width="1.3"/>
<rect x="604.5" y="772.9" width="47.1" height="37.3" fill="none" stroke="#e6e35a" stroke-width="1.5"/>
<rect x="654.2" y="772.9" width="47.5" height="37.3" fill="none" stroke="#e6e35a" stroke-width="1.5"/>
<rect x="661.0" y="779.7" width="33.9" height="30.5" fill="none" stroke="#e6e35a" stroke-width="1.5"/>
<rect x="800.0" y="785.1" width="27.1" height="15.6" fill="none" stroke="#34e0ea" stroke-width="1.4"/>
<text x="806.5" y="797.0" font-size="11.62" fill="#34e0ea" stroke="#34e0ea" stroke-width="0.2" textLength="14.5" lengthAdjust="spacingAndGlyphs">5H</text>
<rect x="855.9" y="802.7" width="7.9" height="14.5" fill="#08f2f2"/>
<text x="771.8" y="829.2" font-size="13.56" fill="#34e0ea" stroke="#34e0ea" stroke-width="0.2" textLength="83.5" lengthAdjust="spacingAndGlyphs">(WALL ABOVE)</text>
<rect x="857.0" y="817.0" width="6.1" height="28.5" fill="url(#hatch)" stroke="#dcdce6" stroke-width="1.3"/>
<line x1="857.0" y1="846.8" x2="857.0" y2="905.0" stroke="#e6e35a" stroke-width="1.5" stroke-dasharray="10 6" stroke-linecap="butt"/>
<line x1="863.1" y1="846.8" x2="863.1" y2="905.0" stroke="#e6e35a" stroke-width="1.5" stroke-dasharray="10 6" stroke-linecap="butt"/>
<line x1="857.0" y1="845.5" x2="863.1" y2="845.5" stroke="#dcdce6" stroke-width="1.5"/>
<line x1="863.5" y1="803.0" x2="899.5" y2="656.0" stroke="#34e0ea" stroke-width="1.3"/>
<line x1="899.5" y1="656.0" x2="910.0" y2="656.0" stroke="#34e0ea" stroke-width="1.3"/>
<polyline points="863.8,802.7 926.2,729.5 940.0,729.5" fill="none" stroke="#34e0ea" stroke-width="1.3"/>
<polyline points="657.6,816.3 708.5,866.5 717.3,866.5" fill="none" stroke="#34e0ea" stroke-width="1.3"/>
<text x="718.0" y="869.9" font-size="13.56" fill="#34e0ea" stroke="#34e0ea" stroke-width="0.2" textLength="191.2" lengthAdjust="spacingAndGlyphs">(4) 1.75x11.875 LVL WITH (2) ROWS</text>
<line x1="910.6" y1="866.5" x2="919.4" y2="866.5" stroke="#34e0ea" stroke-width="1.3"/>
<text x="730.2" y="886.4" font-size="13.56" fill="#34e0ea" stroke="#34e0ea" stroke-width="0.2" textLength="166.8" lengthAdjust="spacingAndGlyphs">OF 1/2" DIA. BOLTS @ 24" O.C.</text>
<line x1="413.4" y1="489.6" x2="413.4" y2="1458.0" stroke="#dcdce6" stroke-width="1.5"/>
<line x1="420.1" y1="495.8" x2="420.1" y2="799.0" stroke="#dcdce6" stroke-width="1.5"/>
<line x1="420.1" y1="816.0" x2="420.1" y2="1371.0" stroke="#dcdce6" stroke-width="1.5"/>
<line x1="578.6" y1="410.0" x2="856.6" y2="410.0" stroke="#dcdce6" stroke-width="1.5"/>
<line x1="585.4" y1="416.4" x2="856.6" y2="416.4" stroke="#dcdce6" stroke-width="1.5"/>
<line x1="578.6" y1="410.0" x2="578.6" y2="489.6" stroke="#dcdce6" stroke-width="1.5"/>
<line x1="578.6" y1="495.8" x2="578.6" y2="647.5" stroke="#dcdce6" stroke-width="1.5"/>
<line x1="585.4" y1="416.4" x2="585.4" y2="647.5" stroke="#dcdce6" stroke-width="1.5"/>
<line x1="604.5" y1="410.0" x2="657.3" y2="410.0" stroke="#e6e35a" stroke-width="1.4"/>
<line x1="604.5" y1="413.2" x2="657.3" y2="413.2" stroke="#e6e35a" stroke-width="1.4"/>
<line x1="604.5" y1="416.4" x2="657.3" y2="416.4" stroke="#e6e35a" stroke-width="1.4"/>
<line x1="604.5" y1="410.0" x2="604.5" y2="416.4" stroke="#e6e35a" stroke-width="1.2"/>
<line x1="657.3" y1="410.0" x2="657.3" y2="416.4" stroke="#e6e35a" stroke-width="1.2"/>
<rect x="657.1" y="408.9" width="8.5" height="8.5" fill="#34e0ea"/>
<line x1="783.5" y1="410.0" x2="836.4" y2="410.0" stroke="#e6e35a" stroke-width="1.4"/>
<line x1="783.5" y1="413.2" x2="836.4" y2="413.2" stroke="#e6e35a" stroke-width="1.4"/>
<line x1="783.5" y1="416.4" x2="836.4" y2="416.4" stroke="#e6e35a" stroke-width="1.4"/>
<line x1="783.5" y1="410.0" x2="783.5" y2="416.4" stroke="#e6e35a" stroke-width="1.2"/>
<line x1="836.4" y1="410.0" x2="836.4" y2="416.4" stroke="#e6e35a" stroke-width="1.2"/>
<line x1="856.6" y1="410.0" x2="856.6" y2="912.0" stroke="#dcdce6" stroke-width="1.5"/>
<line x1="863.3" y1="416.4" x2="863.3" y2="776.0" stroke="#dcdce6" stroke-width="1.5"/>
<line x1="856.6" y1="410.0" x2="863.3" y2="410.0" stroke="#dcdce6" stroke-width="1.0"/>
<line x1="840.0" y1="410.4" x2="856.6" y2="410.4" stroke="#dcdce6" stroke-width="1.5"/>
<line x1="863.5" y1="410.4" x2="884.3" y2="410.4" stroke="#dcdce6" stroke-width="1.5"/>
<line x1="1061.5" y1="410.4" x2="1077.8" y2="410.4" stroke="#dcdce6" stroke-width="1.5"/>
<line x1="1137.5" y1="410.4" x2="1167.3" y2="410.4" stroke="#dcdce6" stroke-width="1.5"/>
<line x1="863.5" y1="416.2" x2="886.1" y2="416.2" stroke="#dcdce6" stroke-width="1.5"/>
<line x1="940.4" y1="416.2" x2="982.0" y2="416.2" stroke="#dcdce6" stroke-width="1.5"/>
<line x1="1041.6" y1="416.2" x2="1160.1" y2="416.2" stroke="#dcdce6" stroke-width="1.5"/>
<line x1="856.6" y1="410.4" x2="863.5" y2="410.4" stroke="#e6e35a" stroke-width="1.2"/>
<line x1="1085.0" y1="410.4" x2="1137.5" y2="410.4" stroke="#e6e35a" stroke-width="1.4"/>
<line x1="1085.0" y1="413.3" x2="1137.5" y2="413.3" stroke="#e6e35a" stroke-width="1.4"/>
<line x1="1085.0" y1="416.2" x2="1137.5" y2="416.2" stroke="#e6e35a" stroke-width="1.4"/>
<line x1="1085.0" y1="410.4" x2="1085.0" y2="416.2" stroke="#e6e35a" stroke-width="1.2"/>
<line x1="1137.5" y1="410.4" x2="1137.5" y2="416.2" stroke="#e6e35a" stroke-width="1.2"/>
<rect x="1077.8" y="408.2" width="7.8" height="9.0" fill="#08f2f2"/>
<rect x="1159.7" y="408.2" width="8.0" height="9.0" fill="#08f2f2"/>
<line x1="884.3" y1="408.6" x2="940.4" y2="408.6" stroke="#e6e35a" stroke-width="1.5"/>
<line x1="884.3" y1="408.6" x2="884.3" y2="416.2" stroke="#e6e35a" stroke-width="1.2"/>
<line x1="940.4" y1="408.6" x2="940.4" y2="416.2" stroke="#e6e35a" stroke-width="1.2"/>
<line x1="885.4" y1="412.1" x2="924.2" y2="449.2" stroke="#e6e35a" stroke-width="1.3"/>
<line x1="886.9" y1="410.5" x2="925.8" y2="447.6" stroke="#e6e35a" stroke-width="1.3"/>
<line x1="885.4" y1="412.1" x2="886.9" y2="410.5" stroke="#e6e35a" stroke-width="1.0"/>
<line x1="924.2" y1="449.2" x2="925.8" y2="447.6" stroke="#e6e35a" stroke-width="1.0"/>
<path d="M940.4,410.4 Q937.6,432.1 925.0,448.4" fill="none" stroke="#e6e35a" stroke-width="1.4"/>
<line x1="1160.4" y1="416.4" x2="1160.4" y2="1375.0" stroke="#dcdce6" stroke-width="1.5"/>
<line x1="1167.3" y1="410.0" x2="1167.3" y2="1375.0" stroke="#dcdce6" stroke-width="1.5"/>
<line x1="1160.4" y1="449.0" x2="1160.4" y2="502.0" stroke="#e6e35a" stroke-width="1.4"/>
<line x1="1163.8" y1="449.0" x2="1163.8" y2="502.0" stroke="#e6e35a" stroke-width="1.4"/>
<line x1="1167.3" y1="449.0" x2="1167.3" y2="502.0" stroke="#e6e35a" stroke-width="1.4"/>
<line x1="1160.4" y1="449.0" x2="1167.3" y2="449.0" stroke="#e6e35a" stroke-width="1.2"/>
<line x1="1160.4" y1="502.0" x2="1167.3" y2="502.0" stroke="#e6e35a" stroke-width="1.2"/>
<line x1="1160.4" y1="660.7" x2="1160.4" y2="713.6" stroke="#e6e35a" stroke-width="1.4"/>
<line x1="1163.8" y1="660.7" x2="1163.8" y2="713.6" stroke="#e6e35a" stroke-width="1.4"/>
<line x1="1167.3" y1="660.7" x2="1167.3" y2="713.6" stroke="#e6e35a" stroke-width="1.4"/>
<line x1="1160.4" y1="660.7" x2="1167.3" y2="660.7" stroke="#e6e35a" stroke-width="1.2"/>
<line x1="1160.4" y1="713.6" x2="1167.3" y2="713.6" stroke="#e6e35a" stroke-width="1.2"/>
<line x1="578.6" y1="697.0" x2="578.6" y2="793.3" stroke="#dcdce6" stroke-width="1.5"/>
<line x1="1103.8" y1="437.0" x2="1103.8" y2="781.4" stroke="#34e0ea" stroke-width="1.4"/>
<polygon points="1103.8,437.0 1102.2,444.0 1105.4,444.0" fill="#34e0ea"/>
<polygon points="1103.8,781.4 1105.4,774.4 1102.2,774.4" fill="#34e0ea"/>
<g transform="translate(1095.7,609.2) rotate(-90)"><text x="-16.3" y="4.6" font-size="13.25" fill="#34e0ea" stroke="#34e0ea" stroke-width="0.2" textLength="32.5" lengthAdjust="spacingAndGlyphs">MONO</text></g>
<g transform="translate(1110.6,608.7) rotate(-90)"><text x="-17.0" y="4.6" font-size="13.25" fill="#34e0ea" stroke="#34e0ea" stroke-width="0.2" textLength="33.9" lengthAdjust="spacingAndGlyphs">TRUSS</text></g>
<text x="911.2" y="661.0" font-size="12.37" fill="#34e0ea" stroke="#34e0ea" stroke-width="0.2" textLength="90.9" lengthAdjust="spacingAndGlyphs">3.5"x7" 1.8E PSL</text>
<text x="911.2" y="675.1" font-size="12.37" fill="#34e0ea" stroke="#34e0ea" stroke-width="0.2" textLength="90.9" lengthAdjust="spacingAndGlyphs">COLUMN WITH (1)</text>
<text x="897.6" y="688.7" font-size="12.37" fill="#34e0ea" stroke="#34e0ea" stroke-width="0.2" textLength="116.6" lengthAdjust="spacingAndGlyphs">STUD ON EACH SIDE</text>
<text x="916.6" y="703.9" font-size="12.37" fill="#34e0ea" stroke="#34e0ea" stroke-width="0.2" textLength="80.0" lengthAdjust="spacingAndGlyphs">(DIRECT BRG)</text>
<circle cx="956.0" cy="729.4" r="20.3" fill="none" stroke="#34e0ea" stroke-width="1.4"/>
<line x1="935.6" y1="729.4" x2="976.3" y2="729.4" stroke="#34e0ea" stroke-width="1.4"/>
<text x="951.9" y="726.4" font-size="11.78" fill="#34e0ea" stroke="#34e0ea" stroke-width="0.2" textLength="9.5" lengthAdjust="spacingAndGlyphs">F</text>
<text x="948.6" y="741.6" font-size="11.78" fill="#34e0ea" stroke="#34e0ea" stroke-width="0.2" textLength="18.2" lengthAdjust="spacingAndGlyphs">SD</text>
<line x1="927.5" y1="729.4" x2="935.6" y2="729.4" stroke="#34e0ea" stroke-width="1.3"/>
<polyline points="972.2,830.0 972.2,746.2 1041.4,746.2 1041.4,830.0" fill="none" stroke="#e6e35a" stroke-width="1.5"/>
<line x1="972.2" y1="753.8" x2="995.3" y2="753.8" stroke="#dcdce6" stroke-width="1.6" stroke-dasharray="6 4" stroke-linecap="butt"/>
<line x1="995.3" y1="753.8" x2="995.3" y2="830.0" stroke="#dcdce6" stroke-width="1.6" stroke-dasharray="6 4" stroke-linecap="butt"/>
<line x1="1002.1" y1="746.2" x2="1002.1" y2="830.0" stroke="#dcdce6" stroke-width="1.4"/>
<polygon points="1002.1,757.0 1040.1,757.0 1040.1,796.4 1002.1,796.4" fill="none" stroke="#e6e35a" stroke-width="1.6" stroke-dasharray="6 4"/>
<polyline points="1120.1,830.0 1120.1,746.2 1159.4,746.2 1159.4,830.0" fill="none" stroke="#e6e35a" stroke-width="1.5"/>
<line x1="1141.0" y1="746.2" x2="1141.0" y2="830.0" stroke="#e6e35a" stroke-width="1.2"/>
<line x1="1143.7" y1="746.2" x2="1143.7" y2="830.0" stroke="#e6e35a" stroke-width="1.2"/>
<line x1="1146.4" y1="746.2" x2="1146.4" y2="830.0" stroke="#e6e35a" stroke-width="1.2"/>
<line x1="1149.1" y1="746.2" x2="1149.1" y2="830.0" stroke="#e6e35a" stroke-width="1.2"/>
<line x1="1151.8" y1="746.2" x2="1151.8" y2="830.0" stroke="#e6e35a" stroke-width="1.2"/>
<line x1="1154.5" y1="746.2" x2="1154.5" y2="830.0" stroke="#e6e35a" stroke-width="1.2"/>
<line x1="1157.2" y1="746.2" x2="1157.2" y2="830.0" stroke="#e6e35a" stroke-width="1.2"/>
<line x1="1159.9" y1="746.2" x2="1159.9" y2="830.0" stroke="#e6e35a" stroke-width="1.2"/>
<rect x="1160.2" y="801.8" width="8.1" height="15.5" fill="#08f2f2"/>
<text x="1171.1" y="813.8" font-size="13.25" fill="#34e0ea" stroke="#34e0ea" stroke-width="0.2" textLength="7.3" lengthAdjust="spacingAndGlyphs">5</text>
<polyline points="972.2,790.0 972.2,905.3 1041.4,905.3 1041.4,790.0" fill="none" stroke="#e6e35a" stroke-width="1.5"/>
<line x1="995.3" y1="790.0" x2="995.3" y2="898.5" stroke="#dcdce6" stroke-width="1.6" stroke-dasharray="6 4" stroke-linecap="butt"/>
<line x1="972.2" y1="898.5" x2="995.3" y2="898.5" stroke="#dcdce6" stroke-width="1.6" stroke-dasharray="6 4" stroke-linecap="butt"/>
<line x1="1002.1" y1="790.0" x2="1002.1" y2="905.3" stroke="#dcdce6" stroke-width="1.4"/>
<rect x="1003.1" y="799.9" width="37.3" height="53.6" fill="none" stroke="#34e0ea" stroke-width="1.4"/>
<rect x="1008.5" y="802.6" width="30.6" height="21.7" fill="none" stroke="#34e0ea" stroke-width="1.4" rx="3"/>
<rect x="1008.5" y="827.0" width="30.6" height="23.8" fill="none" stroke="#34e0ea" stroke-width="1.4" rx="3"/>
<circle cx="1023.5" cy="838.5" r="1.6" fill="none" stroke="#34e0ea" stroke-width="1.2"/>
<line x1="1120.1" y1="790.0" x2="1120.1" y2="955.5" stroke="#e6e35a" stroke-width="1.5"/>
<line x1="1141.0" y1="830.0" x2="1141.0" y2="955.5" stroke="#e6e35a" stroke-width="1.2"/>
<line x1="1143.7" y1="830.0" x2="1143.7" y2="955.5" stroke="#e6e35a" stroke-width="1.2"/>
<line x1="1146.4" y1="830.0" x2="1146.4" y2="955.5" stroke="#e6e35a" stroke-width="1.2"/>
<line x1="1149.1" y1="830.0" x2="1149.1" y2="955.5" stroke="#e6e35a" stroke-width="1.2"/>
<line x1="1151.8" y1="830.0" x2="1151.8" y2="955.5" stroke="#e6e35a" stroke-width="1.2"/>
<line x1="1154.5" y1="830.0" x2="1154.5" y2="955.5" stroke="#e6e35a" stroke-width="1.2"/>
<line x1="1157.2" y1="830.0" x2="1157.2" y2="955.5" stroke="#e6e35a" stroke-width="1.2"/>
<line x1="1159.9" y1="830.0" x2="1159.9" y2="955.5" stroke="#e6e35a" stroke-width="1.2"/>
<line x1="1159.4" y1="790.0" x2="1159.4" y2="1024.6" stroke="#e6e35a" stroke-width="1.3"/>
<rect x="1121.4" y="825.3" width="38.0" height="50.2" fill="none" stroke="#e6e35a" stroke-width="1.4"/>
<circle cx="1130.9" cy="838.8" r="6.0" fill="none" stroke="#e6e35a" stroke-width="1.4"/>
<circle cx="1130.9" cy="862.7" r="6.0" fill="none" stroke="#e6e35a" stroke-width="1.4"/>
<circle cx="1147.2" cy="838.8" r="8.1" fill="none" stroke="#e6e35a" stroke-width="1.4"/>
<circle cx="1147.2" cy="838.8" r="6.0" fill="none" stroke="#e6e35a" stroke-width="1.2"/>
<circle cx="1147.2" cy="862.7" r="8.1" fill="none" stroke="#e6e35a" stroke-width="1.4"/>
<circle cx="1147.2" cy="862.7" r="6.0" fill="none" stroke="#e6e35a" stroke-width="1.2"/>
<line x1="1120.1" y1="955.5" x2="1159.4" y2="955.5" stroke="#e6e35a" stroke-width="1.3"/>
<line x1="1120.1" y1="959.5" x2="1159.4" y2="959.5" stroke="#e6e35a" stroke-width="1.3"/>
<polyline points="1120.1,962.2 1102.4,962.2 1102.4,1021.9 1120.1,1021.9" fill="none" stroke="#e6e35a" stroke-width="1.4"/>
<polyline points="1120.1,963.6 1105.2,963.6 1105.2,1020.6 1120.1,1020.6" fill="none" stroke="#e6e35a" stroke-width="1.2"/>
<line x1="1120.1" y1="962.2" x2="1120.1" y2="1024.6" stroke="#e6e35a" stroke-width="1.3"/>
<line x1="813.6" y1="984.8" x2="1160.8" y2="984.8" stroke="#34e0ea" stroke-width="1.5"/>
<line x1="813.6" y1="992.1" x2="1160.8" y2="992.1" stroke="#34e0ea" stroke-width="1.5"/>
<line x1="813.6" y1="988.6" x2="1160.8" y2="988.6" stroke="#34e0ea" stroke-width="1.5" stroke-dasharray="14 6" stroke-linecap="butt"/>
<rect x="809.5" y="983.1" width="8.1" height="9.8" fill="#08f2f2"/>
<text x="981.2" y="983.2" font-size="13.25" fill="#34e0ea" stroke="#34e0ea" stroke-width="0.2" textLength="16.3" lengthAdjust="spacingAndGlyphs">DJ</text>
<polyline points="947.8,1024.6 947.8,984.8 1037.3,984.8 1037.3,1024.6" fill="none" stroke="#e6e35a" stroke-width="1.5"/>
<line x1="947.8" y1="1004.3" x2="1037.3" y2="1004.3" stroke="#e6e35a" stroke-width="1.3"/>
<line x1="947.8" y1="1008.4" x2="1037.3" y2="1008.4" stroke="#e6e35a" stroke-width="1.3"/>
<line x1="947.8" y1="1012.4" x2="1037.3" y2="1012.4" stroke="#e6e35a" stroke-width="1.3"/>
<line x1="947.8" y1="1016.5" x2="1037.3" y2="1016.5" stroke="#e6e35a" stroke-width="1.3"/>
<line x1="947.8" y1="1020.6" x2="1037.3" y2="1020.6" stroke="#e6e35a" stroke-width="1.3"/>
<line x1="947.8" y1="1023.8" x2="1037.3" y2="1023.8" stroke="#e6e35a" stroke-width="1.3"/>
<text x="970.9" y="931.6" font-size="13.25" fill="#34e0ea" stroke="#34e0ea" stroke-width="0.2" textLength="81.4" lengthAdjust="spacingAndGlyphs">11.875" TJI 210</text>
<text x="982.3" y="946.5" font-size="13.25" fill="#34e0ea" stroke="#34e0ea" stroke-width="0.2" textLength="59.7" lengthAdjust="spacingAndGlyphs">@ 24" O.C.</text>
<line x1="878.7" y1="932.9" x2="1144.5" y2="932.9" stroke="#34e0ea" stroke-width="1.4"/>
<polygon points="878.7,932.9 885.7,934.5 885.7,931.3" fill="#34e0ea"/>
<polygon points="1144.5,932.9 1137.5,931.3 1137.5,934.5" fill="#34e0ea"/>
<text x="945.1" y="1042.0" font-size="13.25" fill="#34e0ea" stroke="#34e0ea" stroke-width="0.2" textLength="81.4" lengthAdjust="spacingAndGlyphs">11.875" TJI 210</text>
<text x="957.3" y="1056.9" font-size="13.25" fill="#34e0ea" stroke="#34e0ea" stroke-width="0.2" textLength="55.6" lengthAdjust="spacingAndGlyphs">@ 16" O.C.</text>
<line x1="835.3" y1="1044.4" x2="1137.7" y2="1044.4" stroke="#34e0ea" stroke-width="1.4"/>
<polygon points="835.3,1044.4 842.3,1046.0 842.3,1042.8" fill="#34e0ea"/>
<polygon points="1137.7,1044.4 1130.7,1042.8 1130.7,1046.0" fill="#34e0ea"/>
<text x="945.1" y="1201.5" font-size="13.25" fill="#34e0ea" stroke="#34e0ea" stroke-width="0.2" textLength="81.4" lengthAdjust="spacingAndGlyphs">11.875" TJI 210</text>
<text x="957.3" y="1216.4" font-size="13.25" fill="#34e0ea" stroke="#34e0ea" stroke-width="0.2" textLength="59.7" lengthAdjust="spacingAndGlyphs">@ 24" O.C.</text>
<line x1="835.3" y1="1204.2" x2="1137.7" y2="1204.2" stroke="#34e0ea" stroke-width="1.4"/>
<polygon points="835.3,1204.2 842.3,1205.8 842.3,1202.6" fill="#34e0ea"/>
<polygon points="1137.7,1204.2 1130.7,1202.6 1130.7,1205.8" fill="#34e0ea"/>
<polyline points="1041.4,1130.4 1041.4,1024.6 943.8,1024.6 915.3,1051.8 915.3,1077.5" fill="none" stroke="#dcdce6" stroke-width="1.5"/>
<polyline points="1035.4,1130.4 1035.4,1030.1 946.5,1030.1 922.1,1054.5 922.1,1069.4" fill="none" stroke="#dcdce6" stroke-width="1.5"/>
<rect x="915.3" y="1054.5" width="6.8" height="23.1" fill="url(#hatch)" stroke="#dcdce6" stroke-width="1.3"/>
<polyline points="915.3,1123.6 915.3,1240.0" fill="none" stroke="#dcdce6" stroke-width="1.5"/>
<rect x="915.3" y="1123.6" width="6.8" height="116.4" fill="url(#hatch)" stroke="#dcdce6" stroke-width="1.3"/>
<path d="M916.6,1069.4 Q941.0,1073.5 954.6,1091.1" fill="none" stroke="#e6e35a" stroke-width="1.4"/>
<line x1="954.6" y1="1091.1" x2="919.3" y2="1123.6" stroke="#e6e35a" stroke-width="1.4"/>
<line x1="957.3" y1="1091.1" x2="922.1" y2="1123.6" stroke="#e6e35a" stroke-width="1.2"/>
<ellipse cx="996.7" cy="1054.5" rx="14.9" ry="13.6" fill="none" stroke="#34e0ea" stroke-width="1.4"/>
<rect x="1015.6" y="1039.5" width="16.3" height="32.5" fill="none" stroke="#34e0ea" stroke-width="1.4"/>
<circle cx="1018.4" cy="1104.6" r="14.9" fill="none" stroke="#34e0ea" stroke-width="1.4"/>
<circle cx="1018.4" cy="1104.6" r="11.4" fill="none" stroke="#34e0ea" stroke-width="1.4"/>
<circle cx="1023.0" cy="1105.2" r="1.6" fill="none" stroke="#34e0ea" stroke-width="1.2"/>
<line x1="1033.3" y1="1087.0" x2="1033.3" y2="1122.3" stroke="#34e0ea" stroke-width="1.4"/>
<polyline points="1107.9,1024.6 1107.9,1046.3 1114.6,1046.3 1114.6,1030.1 1160.8,1030.1 1160.8,1130.4 1114.6,1130.4 1114.6,1114.1 1107.9,1114.1 1107.9,1130.4" fill="none" stroke="#dcdce6" stroke-width="1.5"/>
<polyline points="1109.2,1047.7 1084.8,1070.7 1107.9,1080.2 1084.8,1089.7 1109.2,1112.8" fill="none" stroke="#e6e35a" stroke-width="1.6"/>
<line x1="1130.9" y1="1030.1" x2="1130.9" y2="1130.4" stroke="#dcdce6" stroke-width="1.5"/>
<line x1="1140.4" y1="1030.1" x2="1140.4" y2="1130.4" stroke="#34e0ea" stroke-width="1.4"/>
<line x1="1041.4" y1="1130.4" x2="1048.2" y2="1130.4" stroke="#dcdce6" stroke-width="1.5"/>
<line x1="1101.1" y1="1130.4" x2="1107.9" y2="1130.4" stroke="#dcdce6" stroke-width="1.5"/>
<line x1="922.1" y1="1137.2" x2="1048.2" y2="1137.2" stroke="#dcdce6" stroke-width="1.5"/>
<line x1="1101.1" y1="1137.2" x2="1160.8" y2="1137.2" stroke="#dcdce6" stroke-width="1.5"/>
<line x1="1160.8" y1="1137.2" x2="1160.8" y2="1240.0" stroke="#dcdce6" stroke-width="1.5"/>
<rect x="1048.2" y="1130.4" width="52.9" height="6.8" fill="none" stroke="#e6e35a" stroke-width="1.5" stroke-dasharray="8 5"/>
<line x1="1160.4" y1="1156.2" x2="1160.4" y2="1210.4" stroke="#e6e35a" stroke-width="1.4"/>
<line x1="1163.8" y1="1156.2" x2="1163.8" y2="1210.4" stroke="#e6e35a" stroke-width="1.4"/>
<line x1="1167.3" y1="1156.2" x2="1167.3" y2="1210.4" stroke="#e6e35a" stroke-width="1.4"/>
<line x1="1160.4" y1="1156.2" x2="1167.3" y2="1156.2" stroke="#e6e35a" stroke-width="1.2"/>
<line x1="1160.4" y1="1210.4" x2="1167.3" y2="1210.4" stroke="#e6e35a" stroke-width="1.2"/>
<rect x="915.3" y="1158.4" width="8.7" height="10.0" fill="#08f2f2"/>
<text x="926.9" y="1168.4" font-size="13.25" fill="#34e0ea" stroke="#34e0ea" stroke-width="0.2" textLength="6.5" lengthAdjust="spacingAndGlyphs">2</text>
<g transform="translate(909.9,1237.0) rotate(-90)"><text x="-46.5" y="4.6" font-size="13.25" fill="#34e0ea" stroke="#34e0ea" stroke-width="0.2" textLength="93.0" lengthAdjust="spacingAndGlyphs">(2) 1.75x9.25 LVL</text></g>
<line x1="413.6" y1="802.8" x2="1167.3" y2="802.8" stroke="#34e0ea" stroke-width="1.5"/>
<line x1="413.6" y1="806.2" x2="1167.3" y2="806.2" stroke="#34e0ea" stroke-width="1.5"/>
<line x1="413.6" y1="812.9" x2="1167.3" y2="812.9" stroke="#34e0ea" stroke-width="1.5"/>
<line x1="413.6" y1="816.3" x2="1167.3" y2="816.3" stroke="#34e0ea" stroke-width="1.5"/>
<line x1="420.0" y1="809.5" x2="1160.0" y2="809.5" stroke="#34e0ea" stroke-width="1.5" stroke-dasharray="16 6"/>
<line x1="436.3" y1="815.8" x2="436.3" y2="997.5" stroke="#dcdce6" stroke-width="2.2" stroke-dasharray="10 6" stroke-linecap="butt"/>
<line x1="420.0" y1="982.6" x2="592.3" y2="982.6" stroke="#dcdce6" stroke-width="2.2" stroke-dasharray="10 6" stroke-linecap="butt"/>
<polyline points="440.4,815.8 440.4,977.2 571.9,977.2 571.9,863.2 592.3,863.2" fill="none" stroke="#34e0ea" stroke-width="1.4"/>
<line x1="571.9" y1="863.2" x2="571.9" y2="997.5" stroke="#dcdce6" stroke-width="1.5"/>
<line x1="576.5" y1="867.3" x2="576.5" y2="997.5" stroke="#dcdce6" stroke-width="1.8" stroke-dasharray="8 5" stroke-linecap="butt"/>
<line x1="420.0" y1="997.5" x2="592.3" y2="997.5" stroke="#dcdce6" stroke-width="1.5"/>
<line x1="420.0" y1="1004.3" x2="676.3" y2="1004.3" stroke="#dcdce6" stroke-width="1.5"/>
<rect x="592.3" y="790.0" width="6.8" height="207.5" fill="url(#hatch)" stroke="#dcdce6" stroke-width="1.3"/>
<line x1="599.0" y1="944.6" x2="599.0" y2="997.5" stroke="#dcdce6" stroke-width="1.5"/>
<line x1="609.9" y1="946.0" x2="609.9" y2="997.5" stroke="#dcdce6" stroke-width="1.8" stroke-dasharray="8 5" stroke-linecap="butt"/>
<line x1="614.0" y1="944.6" x2="614.0" y2="997.5" stroke="#34e0ea" stroke-width="1.4"/>
<line x1="631.6" y1="840.2" x2="631.6" y2="937.8" stroke="#34e0ea" stroke-width="1.4"/>
<polyline points="599.0,937.8 645.2,937.8 645.2,951.4 639.7,951.4 639.7,944.6 599.0,944.6" fill="none" stroke="#dcdce6" stroke-width="1.5"/>
<polyline points="599.0,997.5 639.7,997.5 639.7,990.7 645.2,990.7 645.2,997.5 676.3,997.5" fill="none" stroke="#dcdce6" stroke-width="1.5"/>
<path d="M641.1,951.4 Q662.8,952.7 672.3,962.2" fill="none" stroke="#e6e35a" stroke-width="1.4"/>
<line x1="671.5" y1="961.4" x2="641.7" y2="989.9" stroke="#e6e35a" stroke-width="1.3"/>
<line x1="673.0" y1="963.0" x2="643.2" y2="991.5" stroke="#e6e35a" stroke-width="1.3"/>
<line x1="671.5" y1="961.4" x2="673.0" y2="963.0" stroke="#e6e35a" stroke-width="1.0"/>
<line x1="641.7" y1="989.9" x2="643.2" y2="991.5" stroke="#e6e35a" stroke-width="1.0"/>
<path d="M677.7,1005.6 Q676.3,977.2 692.6,960.9" fill="none" stroke="#e6e35a" stroke-width="1.4"/>
<line x1="691.8" y1="961.7" x2="729.8" y2="999.6" stroke="#e6e35a" stroke-width="1.3"/>
<line x1="693.4" y1="960.1" x2="731.4" y2="998.1" stroke="#e6e35a" stroke-width="1.3"/>
<line x1="691.8" y1="961.7" x2="693.4" y2="960.1" stroke="#e6e35a" stroke-width="1.0"/>
<line x1="729.8" y1="999.6" x2="731.4" y2="998.1" stroke="#e6e35a" stroke-width="1.0"/>
<line x1="676.3" y1="1005.6" x2="732.0" y2="1005.6" stroke="#e6e35a" stroke-width="1.5"/>
<polyline points="730.6,998.9 737.4,998.9 737.4,1005.6" fill="none" stroke="#dcdce6" stroke-width="1.5"/>
<rect x="737.4" y="913.4" width="6.8" height="147.8" fill="url(#hatch)" stroke="#dcdce6" stroke-width="1.3"/>
<polyline points="737.4,913.4 863.5,913.4" fill="none" stroke="#dcdce6" stroke-width="1.5"/>
<line x1="744.2" y1="920.2" x2="863.5" y2="920.2" stroke="#dcdce6" stroke-width="1.5"/>
<line x1="744.2" y1="920.2" x2="812.0" y2="985.3" stroke="#dcdce6" stroke-width="1.5"/>
<line x1="816.0" y1="920.2" x2="816.0" y2="985.3" stroke="#34e0ea" stroke-width="1.4"/>
<line x1="831.0" y1="920.2" x2="831.0" y2="985.3" stroke="#34e0ea" stroke-width="1.4"/>
<line x1="847.2" y1="920.2" x2="847.2" y2="985.3" stroke="#34e0ea" stroke-width="1.4"/>
<line x1="860.8" y1="920.2" x2="860.8" y2="992.1" stroke="#34e0ea" stroke-width="1.4"/>
<g transform="translate(852.7,954.1) rotate(90)"><text x="-6.1" y="4.3" font-size="12.37" fill="#34e0ea" stroke="#34e0ea" stroke-width="0.2" textLength="12.2" lengthAdjust="spacingAndGlyphs">SJ</text></g>
<text x="808.7" y="980.4" font-size="13.25" fill="#34e0ea" stroke="#34e0ea" stroke-width="0.2" textLength="7.3" lengthAdjust="spacingAndGlyphs">2</text>
<line x1="744.2" y1="992.1" x2="809.3" y2="992.1" stroke="#34e0ea" stroke-width="1.4"/>
<line x1="744.2" y1="1007.0" x2="809.3" y2="1007.0" stroke="#34e0ea" stroke-width="1.4"/>
<line x1="744.2" y1="1021.9" x2="809.3" y2="1021.9" stroke="#34e0ea" stroke-width="1.4"/>
<line x1="744.2" y1="1037.4" x2="809.3" y2="1037.4" stroke="#34e0ea" stroke-width="1.4"/>
<line x1="744.2" y1="1052.6" x2="809.3" y2="1052.6" stroke="#34e0ea" stroke-width="1.4"/>
<line x1="744.2" y1="1057.2" x2="809.3" y2="1057.2" stroke="#34e0ea" stroke-width="1.4"/>
<line x1="744.2" y1="1068.0" x2="809.3" y2="1068.0" stroke="#34e0ea" stroke-width="1.4" stroke-dasharray="10 6" stroke-linecap="butt"/>
<line x1="744.2" y1="1082.9" x2="809.3" y2="1082.9" stroke="#34e0ea" stroke-width="1.4" stroke-dasharray="10 6" stroke-linecap="butt"/>
<line x1="744.2" y1="1098.7" x2="809.3" y2="1098.7" stroke="#34e0ea" stroke-width="1.4" stroke-dasharray="10 6" stroke-linecap="butt"/>
<line x1="744.2" y1="1114.1" x2="809.3" y2="1114.1" stroke="#34e0ea" stroke-width="1.4" stroke-dasharray="10 6" stroke-linecap="butt"/>
<rect x="810.6" y="992.1" width="6.8" height="247.9" fill="url(#hatch)" stroke="#dcdce6" stroke-width="1.3"/>
<text x="726.5" y="1065.9" font-size="13.25" fill="#34e0ea" stroke="#34e0ea" stroke-width="0.2" textLength="8.1" lengthAdjust="spacingAndGlyphs">2</text>
<rect x="736.6" y="1057.2" width="8.1" height="8.1" fill="#08f2f2"/>
<g transform="translate(732.0,1097.9) rotate(90)"><text x="-6.1" y="4.3" font-size="12.37" fill="#34e0ea" stroke="#34e0ea" stroke-width="0.2" textLength="12.2" lengthAdjust="spacingAndGlyphs">SJ</text></g>
<line x1="740.1" y1="1061.2" x2="740.1" y2="1131.8" stroke="#34e0ea" stroke-width="1.4"/>
<line x1="744.2" y1="1061.2" x2="744.2" y2="1129.1" stroke="#34e0ea" stroke-width="1.4"/>
<line x1="420.0" y1="1129.1" x2="810.6" y2="1129.1" stroke="#34e0ea" stroke-width="1.5"/>
<line x1="420.0" y1="1135.8" x2="810.6" y2="1135.8" stroke="#34e0ea" stroke-width="1.5"/>
<line x1="420.0" y1="1132.3" x2="810.6" y2="1132.3" stroke="#34e0ea" stroke-width="1.5" stroke-dasharray="14 6" stroke-linecap="butt"/>
<text x="608.0" y="1126.9" font-size="13.25" fill="#34e0ea" stroke="#34e0ea" stroke-width="0.2" textLength="15.5" lengthAdjust="spacingAndGlyphs">DJ</text>
<text x="542.1" y="1067.2" font-size="13.25" fill="#34e0ea" stroke="#34e0ea" stroke-width="0.2" textLength="81.4" lengthAdjust="spacingAndGlyphs">11.875" TJI 210</text>
<text x="552.9" y="1082.7" font-size="13.25" fill="#34e0ea" stroke="#34e0ea" stroke-width="0.2" textLength="59.7" lengthAdjust="spacingAndGlyphs">@ 24" O.C.</text>
<line x1="449.9" y1="1069.9" x2="715.7" y2="1069.9" stroke="#34e0ea" stroke-width="1.4"/>
<polygon points="449.9,1069.9 456.9,1071.5 456.9,1068.3" fill="#34e0ea"/>
<polygon points="715.7,1069.9 708.7,1068.3 708.7,1071.5" fill="#34e0ea"/>
<text x="624.8" y="893.6" font-size="13.25" fill="#34e0ea" stroke="#34e0ea" stroke-width="0.2" textLength="81.4" lengthAdjust="spacingAndGlyphs">11.875" TJI 210</text>
<text x="635.7" y="908.6" font-size="13.25" fill="#34e0ea" stroke="#34e0ea" stroke-width="0.2" textLength="59.7" lengthAdjust="spacingAndGlyphs">@ 24" O.C.</text>
<line x1="444.4" y1="895.8" x2="831.0" y2="895.8" stroke="#34e0ea" stroke-width="1.4"/>
<polygon points="444.4,895.8 451.4,897.4 451.4,894.2" fill="#34e0ea"/>
<polygon points="831.0,895.8 824.0,894.2 824.0,897.4" fill="#34e0ea"/>
<circle cx="449.9" cy="1028.2" r="16.8" fill="none" stroke="#34e0ea" stroke-width="1.4"/>
<polyline points="479.7,1005.6 479.7,1051.8 486.5,1051.8 486.5,1005.6" fill="none" stroke="#dcdce6" stroke-width="1.5"/>
<rect x="570.6" y="1007.0" width="23.1" height="16.3" fill="none" stroke="#34e0ea" stroke-width="1.4"/>
<text x="572.7" y="1019.3" font-size="11.78" fill="#34e0ea" stroke="#34e0ea" stroke-width="0.2" textLength="19.0" lengthAdjust="spacingAndGlyphs">1BW</text>
<text x="574.6" y="1186.6" font-size="13.25" fill="#34e0ea" stroke="#34e0ea" stroke-width="0.2" textLength="85.4" lengthAdjust="spacingAndGlyphs">11.875" TJI 360</text>
<text x="589.5" y="1201.5" font-size="13.25" fill="#34e0ea" stroke="#34e0ea" stroke-width="0.2" textLength="57.0" lengthAdjust="spacingAndGlyphs">@ 16" O.C.</text>
<line x1="445.8" y1="1188.7" x2="788.9" y2="1188.7" stroke="#34e0ea" stroke-width="1.4"/>
<polygon points="445.8,1188.7 452.8,1190.3 452.8,1187.1" fill="#34e0ea"/>
<polygon points="788.9,1188.7 781.9,1187.1 781.9,1190.3" fill="#34e0ea"/>
<line x1="420.0" y1="1135.8" x2="420.0" y2="1240.0" stroke="#dcdce6" stroke-width="1.5"/>
<line x1="420.0" y1="1200.0" x2="420.0" y2="1308.5" stroke="#dcdce6" stroke-width="1.5"/>
<circle cx="497.3" cy="1238.0" r="20.3" fill="none" stroke="#34e0ea" stroke-width="1.4"/>
<line x1="477.0" y1="1234.7" x2="517.7" y2="1234.7" stroke="#34e0ea" stroke-width="1.4"/>
<text x="493.3" y="1232.0" font-size="12.37" fill="#34e0ea" stroke="#34e0ea" stroke-width="0.2" textLength="10.8" lengthAdjust="spacingAndGlyphs">D</text>
<text x="488.6" y="1246.4" font-size="12.37" fill="#34e0ea" stroke="#34e0ea" stroke-width="0.2" textLength="19.5" lengthAdjust="spacingAndGlyphs">SD</text>
<text x="481.0" y="1267.3" font-size="12.37" fill="#34e0ea" stroke="#34e0ea" stroke-width="0.2" textLength="32.5" lengthAdjust="spacingAndGlyphs">(TYP.)</text>
<polyline points="477.0,1234.7 467.5,1234.7 421.4,1309.9" fill="none" stroke="#34e0ea" stroke-width="1.3"/>
<polygon points="421.4,1309.9 427.5,1303.7 424.1,1301.6" fill="#34e0ea"/>
<text x="588.2" y="1274.6" font-size="13.25" fill="#34e0ea" stroke="#34e0ea" stroke-width="0.2" textLength="156.0" lengthAdjust="spacingAndGlyphs">CONTINUOUS (2) 1.75x16 LVL</text>
<text x="605.8" y="1286.6" font-size="13.25" fill="#34e0ea" stroke="#34e0ea" stroke-width="0.2" textLength="119.3" lengthAdjust="spacingAndGlyphs">UNDER WALL ABOVE</text>
<polyline points="585.5,1271.1 559.7,1271.1 481.0,1309.9" fill="none" stroke="#34e0ea" stroke-width="1.3"/>
<polyline points="746.9,1271.1 771.3,1271.1 871.6,1319.3" fill="none" stroke="#34e0ea" stroke-width="1.3"/>
<line x1="413.2" y1="1309.3" x2="923.2" y2="1309.3" stroke="#34e0ea" stroke-width="1.4"/>
<line x1="413.2" y1="1312.6" x2="923.2" y2="1312.6" stroke="#34e0ea" stroke-width="1.4"/>
<line x1="413.2" y1="1315.8" x2="923.2" y2="1315.8" stroke="#34e0ea" stroke-width="1.4"/>
<line x1="413.2" y1="1319.1" x2="923.2" y2="1319.1" stroke="#34e0ea" stroke-width="1.4"/>
<line x1="413.2" y1="1322.3" x2="923.2" y2="1322.3" stroke="#34e0ea" stroke-width="1.4"/>
<rect x="413.2" y="1308.5" width="9.5" height="14.1" fill="#08f2f2"/>
<rect x="808.7" y="1308.5" width="9.2" height="14.1" fill="#08f2f2"/>
<rect x="914.5" y="1308.0" width="8.7" height="8.7" fill="#08f2f2"/>
<text x="402.9" y="1321.0" font-size="12.37" fill="#34e0ea" stroke="#34e0ea" stroke-width="0.2" textLength="5.4" lengthAdjust="spacingAndGlyphs">7</text>
<text x="926.4" y="1310.7" font-size="12.37" fill="#34e0ea" stroke="#34e0ea" stroke-width="0.2" textLength="7.6" lengthAdjust="spacingAndGlyphs">4</text>
<rect x="753.7" y="1290.9" width="25.8" height="14.9" fill="none" stroke="#34e0ea" stroke-width="1.4"/>
<text x="759.1" y="1302.5" font-size="12.37" fill="#34e0ea" stroke="#34e0ea" stroke-width="0.2" textLength="14.9" lengthAdjust="spacingAndGlyphs">2H</text>
<rect x="456.6" y="1299.0" width="317.4" height="156.0" fill="none" stroke="#e6e35a" stroke-width="1.6" stroke-dasharray="10 6"/>
<text x="523.1" y="1307.7" font-size="13.25" fill="#34e0ea" stroke="#34e0ea" stroke-width="0.2" textLength="181.7" lengthAdjust="spacingAndGlyphs">(INSIDE EDGE OF WALL ABOVE)</text>
<line x1="490.5" y1="1308.5" x2="490.5" y2="1460.4" stroke="#34e0ea" stroke-width="1.3"/>
<line x1="493.3" y1="1308.5" x2="493.3" y2="1460.4" stroke="#34e0ea" stroke-width="1.3"/>
<line x1="496.0" y1="1308.5" x2="496.0" y2="1460.4" stroke="#34e0ea" stroke-width="1.3"/>
<line x1="734.7" y1="1308.5" x2="734.7" y2="1460.4" stroke="#34e0ea" stroke-width="1.3"/>
<line x1="737.4" y1="1308.5" x2="737.4" y2="1460.4" stroke="#34e0ea" stroke-width="1.3"/>
<line x1="740.1" y1="1308.5" x2="740.1" y2="1460.4" stroke="#34e0ea" stroke-width="1.3"/>
<g transform="translate(483.8,1387.7) rotate(-90)"><text x="-41.4" y="4.6" font-size="13.25" fill="#34e0ea" stroke="#34e0ea" stroke-width="0.2" textLength="82.7" lengthAdjust="spacingAndGlyphs">GIRDER TRUSS</text></g>
<g transform="translate(729.2,1387.7) rotate(-90)"><text x="-41.4" y="4.6" font-size="13.25" fill="#34e0ea" stroke="#34e0ea" stroke-width="0.2" textLength="82.7" lengthAdjust="spacingAndGlyphs">GIRDER TRUSS</text></g>
<rect x="600.4" y="1324.8" width="27.1" height="14.9" fill="none" stroke="#34e0ea" stroke-width="1.4"/>
<text x="607.2" y="1336.7" font-size="12.37" fill="#34e0ea" stroke="#34e0ea" stroke-width="0.2" textLength="14.1" lengthAdjust="spacingAndGlyphs">3H</text>
<text x="513.6" y="1353.3" font-size="13.25" fill="#34e0ea" stroke="#34e0ea" stroke-width="0.2" textLength="200.7" lengthAdjust="spacingAndGlyphs">ADD (2) 1.75x16 LVL PLIES TO THIS</text>
<text x="524.4" y="1368.2" font-size="13.25" fill="#34e0ea" stroke="#34e0ea" stroke-width="0.2" textLength="179.0" lengthAdjust="spacingAndGlyphs">SPAN TO MAKE (4) 1.75x16 LVL.</text>
<text x="512.2" y="1383.1" font-size="13.25" fill="#34e0ea" stroke="#34e0ea" stroke-width="0.2" textLength="202.1" lengthAdjust="spacingAndGlyphs">BOLT TOGETHER WITH (2) ROWS OF</text>
<text x="538.0" y="1398.6" font-size="13.25" fill="#34e0ea" stroke="#34e0ea" stroke-width="0.2" textLength="149.2" lengthAdjust="spacingAndGlyphs">1/2" DIA. BOLTS @ 24" O.C.</text>
<polyline points="513.6,1348.6 505.5,1348.6 520.4,1323.4" fill="none" stroke="#34e0ea" stroke-width="1.3"/>
<polygon points="520.4,1323.4 514.3,1329.7 517.8,1331.8" fill="#34e0ea"/>
<polyline points="714.3,1348.6 722.5,1348.6 704.8,1323.4" fill="none" stroke="#34e0ea" stroke-width="1.3"/>
<polygon points="704.8,1323.4 708.1,1331.5 711.3,1329.2" fill="#34e0ea"/>
<g transform="translate(516.3,1419.2) rotate(-90)"><text x="-15.6" y="4.3" font-size="12.37" fill="#34e0ea" stroke="#34e0ea" stroke-width="0.2" textLength="31.2" lengthAdjust="spacingAndGlyphs">MONO</text></g>
<g transform="translate(529.9,1418.4) rotate(-90)"><text x="-17.0" y="4.3" font-size="12.37" fill="#34e0ea" stroke="#34e0ea" stroke-width="0.2" textLength="33.9" lengthAdjust="spacingAndGlyphs">TRUSS</text></g>
<line x1="523.1" y1="1387.2" x2="523.1" y2="1444.1" stroke="#34e0ea" stroke-width="1.4"/>
<polygon points="523.1,1387.2 521.5,1394.2 524.7,1394.2" fill="#34e0ea"/>
<polygon points="523.1,1444.1 524.7,1437.1 521.5,1437.1" fill="#34e0ea"/>
<text x="547.5" y="1436.6" font-size="13.25" fill="#34e0ea" stroke="#34e0ea" stroke-width="0.2" textLength="134.3" lengthAdjust="spacingAndGlyphs">(LINE OF WALL ABOVE)</text>
<line x1="496.0" y1="1438.2" x2="734.7" y2="1438.2" stroke="#34e0ea" stroke-width="1.4" stroke-dasharray="14 6" stroke-linecap="butt"/>
<rect x="600.4" y="1440.1" width="27.1" height="14.9" fill="none" stroke="#34e0ea" stroke-width="1.4"/>
<text x="609.1" y="1451.7" font-size="12.37" fill="#34e0ea" stroke="#34e0ea" stroke-width="0.2" textLength="10.3" lengthAdjust="spacingAndGlyphs">1H</text>
<line x1="413.2" y1="1457.7" x2="817.4" y2="1457.7" stroke="#34e0ea" stroke-width="1.4"/>
<line x1="413.2" y1="1461.8" x2="817.4" y2="1461.8" stroke="#34e0ea" stroke-width="1.4"/>
<line x1="413.2" y1="1465.8" x2="817.4" y2="1465.8" stroke="#34e0ea" stroke-width="1.4"/>
<line x1="421.4" y1="1459.7" x2="809.3" y2="1459.7" stroke="#34e0ea" stroke-width="1.3" stroke-dasharray="40 25" stroke-linecap="butt"/>
<line x1="421.4" y1="1463.8" x2="809.3" y2="1463.8" stroke="#34e0ea" stroke-width="1.3" stroke-dasharray="40 25" stroke-linecap="butt"/>
<line x1="456.6" y1="1455.0" x2="774.0" y2="1455.0" stroke="#e6e35a" stroke-width="1.6"/>
<rect x="413.2" y="1457.1" width="9.0" height="10.3" fill="#08f2f2"/>
<rect x="449.9" y="1457.1" width="9.0" height="10.3" fill="#08f2f2"/>
<rect x="772.6" y="1457.1" width="9.0" height="10.3" fill="#08f2f2"/>
<rect x="809.3" y="1457.1" width="9.0" height="10.3" fill="#08f2f2"/>
<text x="412.2" y="1479.6" font-size="12.37" fill="#34e0ea" stroke="#34e0ea" stroke-width="0.2" textLength="8.1" lengthAdjust="spacingAndGlyphs">2</text>
<text x="446.3" y="1452.5" font-size="12.37" fill="#34e0ea" stroke="#34e0ea" stroke-width="0.2" textLength="7.6" lengthAdjust="spacingAndGlyphs">2</text>
<text x="776.7" y="1452.5" font-size="12.37" fill="#34e0ea" stroke="#34e0ea" stroke-width="0.2" textLength="8.1" lengthAdjust="spacingAndGlyphs">2</text>
<text x="811.4" y="1479.6" font-size="12.37" fill="#34e0ea" stroke="#34e0ea" stroke-width="0.2" textLength="8.1" lengthAdjust="spacingAndGlyphs">2</text>
<polyline points="453.9,1467.2 445.8,1480.7 784.8,1480.7 776.7,1467.2" fill="none" stroke="#e6e35a" stroke-width="1.5"/>
<line x1="445.8" y1="1467.2" x2="445.8" y2="1480.7" stroke="#e6e35a" stroke-width="1.3"/>
<line x1="784.8" y1="1467.2" x2="784.8" y2="1480.7" stroke="#e6e35a" stroke-width="1.3"/>
<text x="563.8" y="1478.1" font-size="13.25" fill="#34e0ea" stroke="#34e0ea" stroke-width="0.2" textLength="103.1" lengthAdjust="spacingAndGlyphs">(3) 1.75x11.875 LVL</text>
<polyline points="559.7,1495.7 554.3,1495.7 523.1,1436.0" fill="none" stroke="#34e0ea" stroke-width="1.3"/>
<text x="561.1" y="1500.3" font-size="13.25" fill="#34e0ea" stroke="#34e0ea" stroke-width="0.2" textLength="157.3" lengthAdjust="spacingAndGlyphs">DESIGN TRUSS TO SUPPORT</text>
<text x="578.7" y="1514.4" font-size="13.25" fill="#34e0ea" stroke="#34e0ea" stroke-width="0.2" textLength="120.7" lengthAdjust="spacingAndGlyphs">FLOOR/WALL ABOVE</text>
<polyline points="441.7,1430.6 441.7,1547.2 788.9,1547.2 788.9,1430.6" fill="none" stroke="#34e0ea" stroke-width="1.4"/>
<circle cx="615.3" cy="1548.6" r="20.3" fill="none" stroke="#34e0ea" stroke-width="1.4"/>
<line x1="595.0" y1="1548.6" x2="635.7" y2="1548.6" stroke="#34e0ea" stroke-width="1.4"/>
<text x="611.2" y="1546.1" font-size="12.37" fill="#34e0ea" stroke="#34e0ea" stroke-width="0.2" textLength="9.5" lengthAdjust="spacingAndGlyphs">C</text>
<text x="607.2" y="1559.7" font-size="12.37" fill="#34e0ea" stroke="#34e0ea" stroke-width="0.2" textLength="19.0" lengthAdjust="spacingAndGlyphs">SD</text>
<text x="597.1" y="1580.0" font-size="12.37" fill="#34e0ea" stroke="#34e0ea" stroke-width="0.2" textLength="36.3" lengthAdjust="spacingAndGlyphs">CS-PF</text>
<polyline points="422.7,1370.9 411.9,1370.9 411.9,1425.1 418.7,1425.1 456.6,1387.2" fill="none" stroke="#e6e35a" stroke-width="1.5" stroke-dasharray="10 5"/>
<polyline points="411.9,1370.9 429.5,1369.5 456.6,1387.2 449.9,1395.3" fill="none" stroke="#e6e35a" stroke-width="1.2"/>
<g transform="translate(429.5,1392.6) rotate(-90)"><text x="-16.3" y="4.3" font-size="12.37" fill="#34e0ea" stroke="#34e0ea" stroke-width="0.2" textLength="32.5" lengthAdjust="spacingAndGlyphs">MONO</text></g>
<g transform="translate(443.1,1393.1) rotate(-90)"><text x="-17.0" y="4.3" font-size="12.37" fill="#34e0ea" stroke="#34e0ea" stroke-width="0.2" textLength="33.9" lengthAdjust="spacingAndGlyphs">TRUSS</text></g>
<line x1="434.9" y1="1339.7" x2="434.9" y2="1444.1" stroke="#34e0ea" stroke-width="1.4"/>
<polygon points="434.9,1339.7 433.3,1346.7 436.5,1346.7" fill="#34e0ea"/>
<polygon points="434.9,1444.1 436.5,1437.1 433.3,1437.1" fill="#34e0ea"/>
<text x="748.2" y="1353.3" font-size="13.25" fill="#34e0ea" stroke="#34e0ea" stroke-width="0.2" textLength="50.2" lengthAdjust="spacingAndGlyphs">SIMPSON</text>
<text x="756.4" y="1367.4" font-size="13.25" fill="#34e0ea" stroke="#34e0ea" stroke-width="0.2" textLength="35.3" lengthAdjust="spacingAndGlyphs">HU 410</text>
<text x="757.7" y="1382.3" font-size="13.25" fill="#34e0ea" stroke="#34e0ea" stroke-width="0.2" textLength="32.5" lengthAdjust="spacingAndGlyphs">(MAX)</text>
<line x1="801.1" y1="1348.6" x2="871.6" y2="1348.6" stroke="#34e0ea" stroke-width="1.3"/>
<text x="800.6" y="1382.0" font-size="12.37" fill="#34e0ea" stroke="#34e0ea" stroke-width="0.2" textLength="6.5" lengthAdjust="spacingAndGlyphs">2</text>
<rect x="809.3" y="1373.6" width="8.7" height="8.7" fill="#08f2f2"/>
<rect x="810.6" y="1200.0" width="6.8" height="108.5" fill="url(#hatch)" stroke="#dcdce6" stroke-width="1.3"/>
<rect x="810.6" y="1322.1" width="6.8" height="135.6" fill="url(#hatch)" stroke="#dcdce6" stroke-width="1.3"/>
<rect x="915.0" y="1200.0" width="6.8" height="108.5" fill="url(#hatch)" stroke="#dcdce6" stroke-width="1.3"/>
<rect x="915.0" y="1322.1" width="6.8" height="59.7" fill="url(#hatch)" stroke="#dcdce6" stroke-width="1.3"/>
<line x1="817.4" y1="1334.3" x2="915.0" y2="1334.3" stroke="#dcdce6" stroke-width="1.5"/>
<line x1="817.4" y1="1341.0" x2="915.0" y2="1341.0" stroke="#dcdce6" stroke-width="1.5"/>
<line x1="817.4" y1="1377.7" x2="915.0" y2="1377.7" stroke="#34e0ea" stroke-width="1.5"/>
<line x1="817.4" y1="1381.7" x2="915.0" y2="1381.7" stroke="#34e0ea" stroke-width="1.5"/>
<line x1="837.1" y1="1336.4" x2="880.5" y2="1294.4" stroke="#e6e35a" stroke-width="1.3"/>
<line x1="835.6" y1="1334.8" x2="879.0" y2="1292.8" stroke="#e6e35a" stroke-width="1.3"/>
<line x1="837.1" y1="1336.4" x2="835.6" y2="1334.8" stroke="#e6e35a" stroke-width="1.0"/>
<line x1="880.5" y1="1294.4" x2="879.0" y2="1292.8" stroke="#e6e35a" stroke-width="1.0"/>
<path d="M879.8,1293.6 Q896.1,1313.9 897.4,1342.4" fill="none" stroke="#e6e35a" stroke-width="1.4"/>
<line x1="835.0" y1="1342.4" x2="897.4" y2="1342.4" stroke="#e6e35a" stroke-width="1.5"/>
<line x1="882.5" y1="1313.9" x2="882.5" y2="1376.3" stroke="#34e0ea" stroke-width="1.3"/>
<line x1="886.6" y1="1313.9" x2="886.6" y2="1376.3" stroke="#34e0ea" stroke-width="1.3"/>
<line x1="890.6" y1="1313.9" x2="890.6" y2="1376.3" stroke="#34e0ea" stroke-width="1.3"/>
<circle cx="886.6" cy="1315.3" r="6.0" fill="none" stroke="#34e0ea" stroke-width="1.3"/>
<circle cx="886.6" cy="1375.0" r="6.0" fill="none" stroke="#34e0ea" stroke-width="1.3"/>
<rect x="852.7" y="1356.8" width="27.1" height="14.6" fill="none" stroke="#34e0ea" stroke-width="1.4"/>
<text x="858.6" y="1368.4" font-size="12.37" fill="#34e0ea" stroke="#34e0ea" stroke-width="0.2" textLength="15.7" lengthAdjust="spacingAndGlyphs">4H</text>
<rect x="892.0" y="1346.5" width="14.9" height="19.0" fill="none" stroke="#34e0ea" stroke-width="1.4"/>
<g transform="translate(899.3,1356.0) rotate(-90)"><text x="-6.1" y="4.1" font-size="11.78" fill="#34e0ea" stroke="#34e0ea" stroke-width="0.2" textLength="12.2" lengthAdjust="spacingAndGlyphs">1V</text></g>
<text x="818.8" y="1394.5" font-size="13.25" fill="#34e0ea" stroke="#34e0ea" stroke-width="0.2" textLength="101.7" lengthAdjust="spacingAndGlyphs">(2) 1.75x11.875 LVL</text>
<polyline points="801.1,1467.2 801.1,1520.1 940.0,1520.1" fill="none" stroke="#34e0ea" stroke-width="1.4"/>
<polyline points="806.5,1467.2 806.5,1514.6 940.0,1514.6" fill="none" stroke="#34e0ea" stroke-width="1.4"/>
<rect x="806.5" y="1503.8" width="10.8" height="10.8" fill="none" stroke="#34e0ea" stroke-width="1.4"/>
<polyline points="806.5,1511.9 841.8,1547.2 852.7,1547.2" fill="none" stroke="#34e0ea" stroke-width="1.3"/>
<line x1="871.6" y1="1319.3" x2="940.0" y2="1247.5" stroke="#34e0ea" stroke-width="1.3"/>
<line x1="873.0" y1="1348.6" x2="885.2" y2="1311.2" stroke="#34e0ea" stroke-width="1.3"/>
<line x1="873.0" y1="1348.6" x2="885.8" y2="1373.6" stroke="#34e0ea" stroke-width="1.3"/>
<rect x="915.3" y="1200.0" width="6.8" height="176.3" fill="url(#hatch)" stroke="#dcdce6" stroke-width="1.3"/>
<rect x="926.1" y="1225.8" width="14.9" height="20.3" fill="none" stroke="#34e0ea" stroke-width="1.4"/>
<g transform="translate(933.5,1235.8) rotate(-90)"><text x="-6.8" y="4.1" font-size="11.78" fill="#34e0ea" stroke="#34e0ea" stroke-width="0.2" textLength="13.6" lengthAdjust="spacingAndGlyphs">3V</text></g>
<text x="943.8" y="1253.5" font-size="13.25" fill="#34e0ea" stroke="#34e0ea" stroke-width="0.2" textLength="126.1" lengthAdjust="spacingAndGlyphs">TRIM BOTTOM OF TOP</text>
<text x="931.6" y="1268.4" font-size="13.25" fill="#34e0ea" stroke="#34e0ea" stroke-width="0.2" textLength="150.5" lengthAdjust="spacingAndGlyphs">FLUSH (2) 1.75x16 LVL 4 1/8"</text>
<text x="930.2" y="1281.9" font-size="13.25" fill="#34e0ea" stroke="#34e0ea" stroke-width="0.2" textLength="151.9" lengthAdjust="spacingAndGlyphs">IN ORDER TO FIT FLUSH IN</text>
<text x="961.4" y="1295.5" font-size="13.25" fill="#34e0ea" stroke="#34e0ea" stroke-width="0.2" textLength="89.5" lengthAdjust="spacingAndGlyphs">FLOOR SYSTEM</text>
<polyline points="942.4,1248.8 926.1,1248.8 870.5,1347.8" fill="none" stroke="#34e0ea" stroke-width="1.3"/>
<text x="926.9" y="1310.1" font-size="12.37" fill="#34e0ea" stroke="#34e0ea" stroke-width="0.2" textLength="6.5" lengthAdjust="spacingAndGlyphs">4</text>
<rect x="915.3" y="1305.2" width="8.7" height="10.0" fill="#08f2f2"/>
<line x1="927.5" y1="1307.1" x2="953.3" y2="1307.1" stroke="#34e0ea" stroke-width="1.2"/>
<line x1="953.3" y1="1307.1" x2="953.3" y2="1384.4" stroke="#34e0ea" stroke-width="1.2"/>
<line x1="949.2" y1="1304.4" x2="957.3" y2="1311.2" stroke="#34e0ea" stroke-width="1.2"/>
<line x1="949.2" y1="1380.4" x2="957.3" y2="1387.2" stroke="#34e0ea" stroke-width="1.2"/>
<g transform="translate(945.1,1346.5) rotate(-90)"><text x="-12.9" y="4.3" font-size="12.37" fill="#34e0ea" stroke="#34e0ea" stroke-width="0.2" textLength="25.8" lengthAdjust="spacingAndGlyphs">3'-6"</text></g>
<g transform="translate(960.0,1347.8) rotate(-90)"><text x="-17.6" y="4.3" font-size="12.37" fill="#34e0ea" stroke="#34e0ea" stroke-width="0.2" textLength="35.3" lengthAdjust="spacingAndGlyphs">TO CL OF</text></g>
<g transform="translate(973.6,1346.5) rotate(-90)"><text x="-10.8" y="4.3" font-size="12.37" fill="#34e0ea" stroke="#34e0ea" stroke-width="0.2" textLength="21.7" lengthAdjust="spacingAndGlyphs">BEAM</text></g>
<text x="973.6" y="1321.8" font-size="13.25" fill="#34e0ea" stroke="#34e0ea" stroke-width="0.2" textLength="103.1" lengthAdjust="spacingAndGlyphs">(2) 1.75x11.875 LVL</text>
<text x="985.8" y="1336.2" font-size="13.25" fill="#34e0ea" stroke="#34e0ea" stroke-width="0.2" textLength="78.7" lengthAdjust="spacingAndGlyphs">(UNDER WALL)</text>
<polyline points="973.6,1317.2 965.5,1317.2 893.6,1347.8" fill="none" stroke="#34e0ea" stroke-width="1.3"/>
<line x1="922.1" y1="1375.0" x2="1160.8" y2="1375.0" stroke="#dcdce6" stroke-width="1.5"/>
<line x1="922.1" y1="1381.7" x2="1160.8" y2="1381.7" stroke="#dcdce6" stroke-width="1.5"/>
<rect x="987.2" y="1374.4" width="108.5" height="8.1" fill="#23283a"/>
<line x1="987.2" y1="1375.0" x2="1095.7" y2="1375.0" stroke="#6af0a8" stroke-width="1.6"/>
<line x1="987.2" y1="1378.2" x2="1095.7" y2="1378.2" stroke="#34e0ea" stroke-width="1.4"/>
<line x1="987.2" y1="1381.7" x2="1095.7" y2="1381.7" stroke="#5ae8c0" stroke-width="1.6"/>
<rect x="915.3" y="1374.4" width="8.7" height="8.1" fill="#08f2f2"/>
<rect x="980.4" y="1374.4" width="8.7" height="8.1" fill="#08f2f2"/>
<rect x="1095.1" y="1374.4" width="8.7" height="8.1" fill="#08f2f2"/>
<rect x="1159.4" y="1374.4" width="8.7" height="8.1" fill="#08f2f2"/>
<text x="926.9" y="1371.1" font-size="12.37" fill="#34e0ea" stroke="#34e0ea" stroke-width="0.2" textLength="7.3" lengthAdjust="spacingAndGlyphs">2</text>
<text x="981.2" y="1371.1" font-size="12.37" fill="#34e0ea" stroke="#34e0ea" stroke-width="0.2" textLength="7.3" lengthAdjust="spacingAndGlyphs">2</text>
<text x="1095.7" y="1371.1" font-size="12.37" fill="#34e0ea" stroke="#34e0ea" stroke-width="0.2" textLength="7.6" lengthAdjust="spacingAndGlyphs">2</text>
<text x="1172.2" y="1383.4" font-size="12.37" fill="#34e0ea" stroke="#34e0ea" stroke-width="0.2" textLength="7.6" lengthAdjust="spacingAndGlyphs">2</text>
<text x="1018.4" y="1372.8" font-size="13.25" fill="#34e0ea" stroke="#34e0ea" stroke-width="0.2" textLength="46.1" lengthAdjust="spacingAndGlyphs">(2) 2x10</text>
<rect x="1160.2" y="1294.4" width="8.1" height="9.2" fill="#08f2f2"/>
<rect x="1160.2" y="1354.1" width="8.1" height="9.2" fill="#08f2f2"/>
<text x="1149.9" y="1303.3" font-size="12.37" fill="#34e0ea" stroke="#34e0ea" stroke-width="0.2" textLength="6.8" lengthAdjust="spacingAndGlyphs">3</text>
<text x="1150.5" y="1363.0" font-size="12.37" fill="#34e0ea" stroke="#34e0ea" stroke-width="0.2" textLength="7.1" lengthAdjust="spacingAndGlyphs">2</text>
<rect x="1160.2" y="1303.6" width="8.1" height="50.5" fill="#23283a"/>
<line x1="1160.8" y1="1303.6" x2="1160.8" y2="1354.1" stroke="#34e0ea" stroke-width="1.5"/>
<line x1="1167.5" y1="1303.6" x2="1167.5" y2="1354.1" stroke="#34e0ea" stroke-width="1.5"/>
<line x1="1164.0" y1="1303.6" x2="1164.0" y2="1354.1" stroke="#6af0a8" stroke-width="1.5"/>
<text x="1094.3" y="1314.5" font-size="13.25" fill="#34e0ea" stroke="#34e0ea" stroke-width="0.2" textLength="48.8" lengthAdjust="spacingAndGlyphs">SIMPSON</text>
<text x="1099.7" y="1328.1" font-size="13.25" fill="#34e0ea" stroke="#34e0ea" stroke-width="0.2" textLength="36.6" lengthAdjust="spacingAndGlyphs">HU 410</text>
<text x="1102.4" y="1343.0" font-size="13.25" fill="#34e0ea" stroke="#34e0ea" stroke-width="0.2" textLength="32.5" lengthAdjust="spacingAndGlyphs">(MAX)</text>
<rect x="1141.8" y="1319.3" width="14.9" height="20.3" fill="none" stroke="#34e0ea" stroke-width="1.4"/>
<g transform="translate(1149.4,1329.7) rotate(-90)"><text x="-6.8" y="4.1" font-size="11.78" fill="#34e0ea" stroke="#34e0ea" stroke-width="0.2" textLength="13.6" lengthAdjust="spacingAndGlyphs">2V</text></g>
<polyline points="1194.7,1294.9 1187.9,1294.9 1168.9,1323.4" fill="none" stroke="#34e0ea" stroke-width="1.3"/>
<text x="1195.5" y="1299.6" font-size="13.25" fill="#34e0ea" stroke="#34e0ea" stroke-width="0.2" textLength="95.5" lengthAdjust="spacingAndGlyphs">(2) 1.75x9.25 LVL</text>
<line x1="1160.8" y1="1381.7" x2="1160.8" y2="1520.1" stroke="#34e0ea" stroke-width="1.5"/>
<line x1="1167.5" y1="1381.7" x2="1167.5" y2="1520.1" stroke="#34e0ea" stroke-width="1.5"/>
<line x1="800.0" y1="1514.6" x2="1160.8" y2="1514.6" stroke="#34e0ea" stroke-width="1.5"/>
<line x1="800.0" y1="1520.1" x2="1167.5" y2="1520.1" stroke="#34e0ea" stroke-width="1.5"/>
<line x1="802.7" y1="1517.4" x2="1163.5" y2="1517.4" stroke="#34e0ea" stroke-width="1.2" stroke-dasharray="40 20" stroke-linecap="butt"/>
<rect x="806.8" y="1503.8" width="10.8" height="10.8" fill="none" stroke="#34e0ea" stroke-width="1.3"/>
<rect x="915.3" y="1503.8" width="17.6" height="14.9" fill="none" stroke="#34e0ea" stroke-width="1.3"/>
<rect x="1149.9" y="1503.8" width="10.8" height="10.8" fill="none" stroke="#34e0ea" stroke-width="1.3"/>
<text x="942.4" y="1512.5" font-size="13.25" fill="#34e0ea" stroke="#34e0ea" stroke-width="0.2" textLength="82.7" lengthAdjust="spacingAndGlyphs">(2) 2x10 (TYP.)</text>
<line x1="970.9" y1="1398.0" x2="970.9" y2="1491.6" stroke="#34e0ea" stroke-width="1.4"/>
<polygon points="970.9,1398.0 969.3,1405.0 972.5,1405.0" fill="#34e0ea"/>
<polygon points="970.9,1491.6 972.5,1484.6 969.3,1484.6" fill="#34e0ea"/>
<g transform="translate(964.1,1445.5) rotate(-90)"><text x="-16.3" y="4.3" font-size="12.37" fill="#34e0ea" stroke="#34e0ea" stroke-width="0.2" textLength="32.5" lengthAdjust="spacingAndGlyphs">MONO</text></g>
<g transform="translate(977.7,1444.1) rotate(-90)"><text x="-17.0" y="4.3" font-size="12.37" fill="#34e0ea" stroke="#34e0ea" stroke-width="0.2" textLength="33.9" lengthAdjust="spacingAndGlyphs">TRUSS</text></g>
<text x="854.2" y="1549.1" font-size="13.25" fill="#34e0ea" stroke="#34e0ea" stroke-width="0.2" textLength="259.0" lengthAdjust="spacingAndGlyphs">4"x4" TRT'D POST (OR EQUIV.) (TYP.) ATTACH</text>
<text x="875.9" y="1563.2" font-size="13.25" fill="#34e0ea" stroke="#34e0ea" stroke-width="0.2" textLength="215.6" lengthAdjust="spacingAndGlyphs">RAFTERS AT PORCH WITH HURRICANE</text>
<text x="865.1" y="1577.6" font-size="13.25" fill="#34e0ea" stroke="#34e0ea" stroke-width="0.2" textLength="237.3" lengthAdjust="spacingAndGlyphs">CONNECTORS (SIMPSON H2.5A OR EQUIV.)</text>
<text x="866.5" y="1591.7" font-size="13.25" fill="#34e0ea" stroke="#34e0ea" stroke-width="0.2" textLength="234.6" lengthAdjust="spacingAndGlyphs">ATTACH HEADER TO POST AND POST TO</text>
<text x="854.2" y="1606.1" font-size="13.25" fill="#34e0ea" stroke="#34e0ea" stroke-width="0.2" textLength="260.4" lengthAdjust="spacingAndGlyphs">BASE WITH A POST CAP OR METAL STRAP(S)</text>
<text x="869.2" y="1621.0" font-size="13.25" fill="#34e0ea" stroke="#34e0ea" stroke-width="0.2" textLength="230.6" lengthAdjust="spacingAndGlyphs">OR BRACKET(S), AND/OR A POST BASE.</text>
<line x1="1160.8" y1="1200.0" x2="1160.8" y2="1294.9" stroke="#dcdce6" stroke-width="1.5"/>
<line x1="1167.5" y1="1200.0" x2="1167.5" y2="1294.9" stroke="#dcdce6" stroke-width="1.5"/>
<line x1="1160.8" y1="1362.7" x2="1160.8" y2="1375.0" stroke="#dcdce6" stroke-width="1.5"/>
<line x1="1167.5" y1="1362.7" x2="1167.5" y2="1381.7" stroke="#dcdce6" stroke-width="1.5"/>
<line x1="721.1" y1="437.0" x2="721.1" y2="781.4" stroke="#34e0ea" stroke-width="1.4"/>
<polygon points="721.1,437.0 719.5,444.0 722.7,444.0" fill="#34e0ea"/>
<polygon points="721.1,781.4 722.7,774.4 719.5,774.4" fill="#34e0ea"/>
<g transform="translate(715.7,609.2) rotate(-90)"><text x="-16.3" y="4.6" font-size="13.25" fill="#34e0ea" stroke="#34e0ea" stroke-width="0.2" textLength="32.5" lengthAdjust="spacingAndGlyphs">MONO</text></g>
<g transform="translate(729.2,608.7) rotate(-90)"><text x="-17.0" y="4.6" font-size="13.25" fill="#34e0ea" stroke="#34e0ea" stroke-width="0.2" textLength="33.9" lengthAdjust="spacingAndGlyphs">TRUSS</text></g>
<line x1="1121.5" y1="955.5" x2="1121.5" y2="1024.6" stroke="#e6e35a" stroke-width="1.3"/>
<line x1="1125.6" y1="955.5" x2="1125.6" y2="1024.6" stroke="#e6e35a" stroke-width="1.3"/>
<line x1="1129.7" y1="955.5" x2="1129.7" y2="1024.6" stroke="#e6e35a" stroke-width="1.3"/>
<line x1="1133.8" y1="955.5" x2="1133.8" y2="1024.6" stroke="#e6e35a" stroke-width="1.3"/>
<line x1="1137.9" y1="955.5" x2="1137.9" y2="1024.6" stroke="#e6e35a" stroke-width="1.3"/>
<line x1="1142.0" y1="955.5" x2="1142.0" y2="1024.6" stroke="#e6e35a" stroke-width="1.3"/>
<line x1="1146.1" y1="955.5" x2="1146.1" y2="1024.6" stroke="#e6e35a" stroke-width="1.3"/>
<line x1="1150.2" y1="955.5" x2="1150.2" y2="1024.6" stroke="#e6e35a" stroke-width="1.3"/>
<line x1="1154.3" y1="955.5" x2="1154.3" y2="1024.6" stroke="#e6e35a" stroke-width="1.3"/>
<line x1="1158.4" y1="955.5" x2="1158.4" y2="1024.6" stroke="#e6e35a" stroke-width="1.3"/>
<line x1="849.7" y1="704.3" x2="813.1" y2="666.4" stroke="#e6e35a" stroke-width="1.3"/>
<line x1="848.1" y1="705.9" x2="811.5" y2="667.9" stroke="#e6e35a" stroke-width="1.3"/>
<line x1="849.7" y1="704.3" x2="848.1" y2="705.9" stroke="#e6e35a" stroke-width="1.0"/>
<line x1="813.1" y1="666.4" x2="811.5" y2="667.9" stroke="#e6e35a" stroke-width="1.0"/>
<path d="M796.7,703.7 Q798.7,680.7 812.3,667.1" fill="none" stroke="#e6e35a" stroke-width="1.4"/>
<polyline points="919.5,866.5 971.2,815.5" fill="none" stroke="#34e0ea" stroke-width="1.3"/>
<polygon points="971.2,815.5 963.7,820.0 966.6,822.9" fill="#34e0ea"/>
<circle cx="535.1" cy="340.6" r="20.3" fill="none" stroke="#34e0ea" stroke-width="1.4"/>
<line x1="514.7" y1="340.6" x2="566.7" y2="340.6" stroke="#34e0ea" stroke-width="1.4"/>
<text x="528.3" y="338.3" font-size="12.76" fill="#34e0ea" stroke="#34e0ea" stroke-width="0.2" textLength="18.1" lengthAdjust="spacingAndGlyphs">HD</text>
<text x="528.3" y="353.2" font-size="12.76" fill="#34e0ea" stroke="#34e0ea" stroke-width="0.2" textLength="19.0" lengthAdjust="spacingAndGlyphs">SD</text>
<polyline points="566.7,340.6 581.2,408.4" fill="none" stroke="#34e0ea" stroke-width="1.3"/>
<polygon points="581.2,408.4 581.4,399.7 577.5,400.5" fill="#34e0ea"/>
<polyline points="566.7,340.6 661.7,410.7" fill="none" stroke="#34e0ea" stroke-width="1.3"/>
<polygon points="661.7,410.7 656.0,404.0 653.6,407.3" fill="#34e0ea"/>
<text x="579.0" y="829.0" font-size="12.14" fill="#34e0ea" stroke="#34e0ea" stroke-width="0.2" textLength="7.5" lengthAdjust="spacingAndGlyphs">6</text>
<text x="801.0" y="1334.0" font-size="12.14" fill="#34e0ea" stroke="#34e0ea" stroke-width="0.2" textLength="7.0" lengthAdjust="spacingAndGlyphs">7</text>
</svg></body></html>
